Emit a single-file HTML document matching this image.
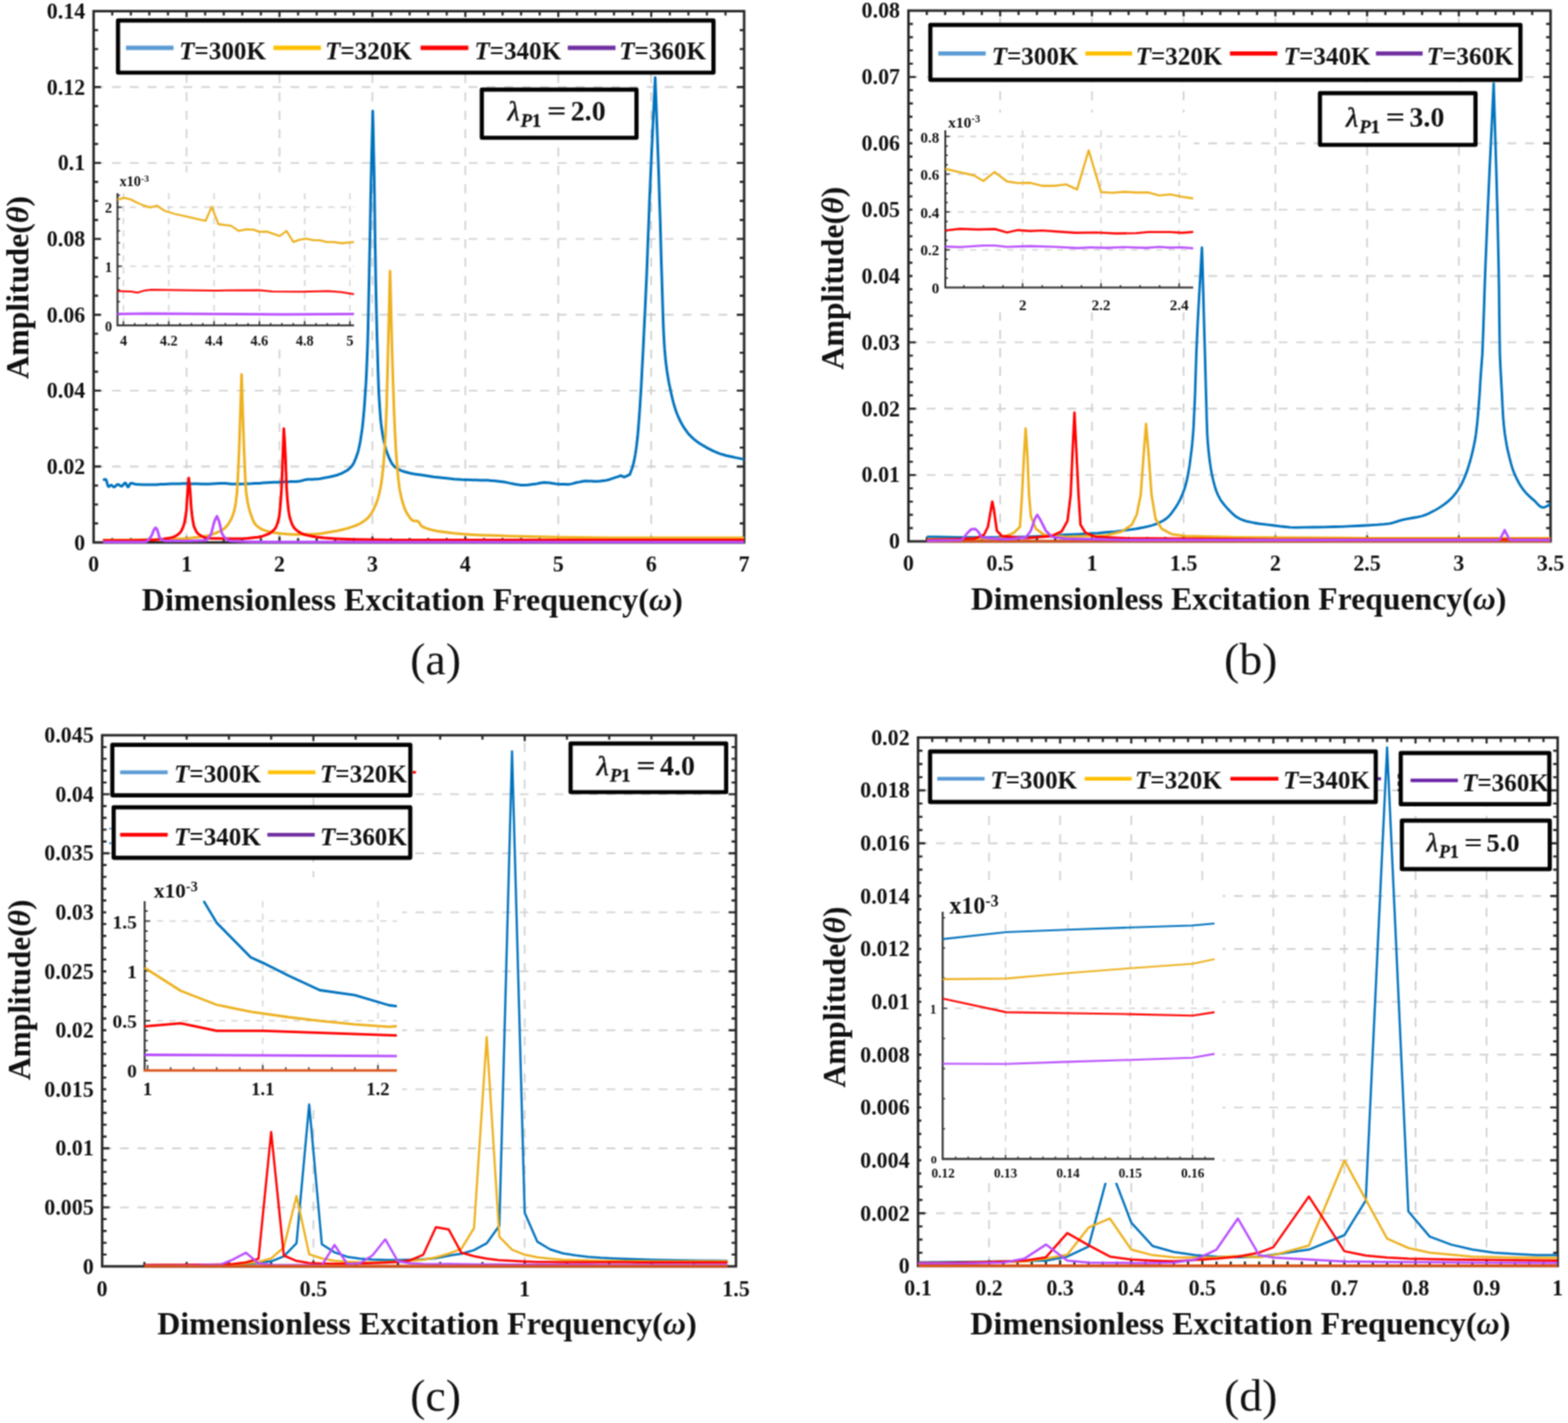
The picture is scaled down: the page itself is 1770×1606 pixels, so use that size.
<!DOCTYPE html>
<html lang="en"><head><meta charset="utf-8"><title>Amplitude versus dimensionless excitation frequency</title>
<style>html,body{margin:0;padding:0;background:#fff}svg{display:block}text{font-family:'Liberation Serif', 'DejaVu Serif', serif;fill:#111}</style></head><body>
<svg width="1770" height="1606" viewBox="0 0 1770 1606">
<defs><filter id="soft" x="0" y="0" width="1770" height="1606" filterUnits="userSpaceOnUse" color-interpolation-filters="sRGB"><feConvolveMatrix order="3" kernelMatrix="1 2 1 2 4 2 1 2 1" divisor="16" edgeMode="duplicate" preserveAlpha="true"/></filter></defs>
<g filter="url(#soft)">
<rect width="1770" height="1606" fill="#fff"/>
<clipPath id="ca"><rect x="105.7" y="12.6" width="734.3" height="601.1"/></clipPath>
<g id="panel-a">
<line x1="210.6" y1="612.2" x2="210.6" y2="12.6" stroke="#d2d2d2" stroke-width="1.9" stroke-dasharray="10.36 10.36" stroke-dashoffset="-0.35"/>
<line x1="315.5" y1="612.2" x2="315.5" y2="12.6" stroke="#d2d2d2" stroke-width="1.9" stroke-dasharray="10.36 10.36" stroke-dashoffset="-0.35"/>
<line x1="420.4" y1="612.2" x2="420.4" y2="12.6" stroke="#d2d2d2" stroke-width="1.9" stroke-dasharray="10.36 10.36" stroke-dashoffset="-0.35"/>
<line x1="525.3" y1="612.2" x2="525.3" y2="12.6" stroke="#d2d2d2" stroke-width="1.9" stroke-dasharray="10.36 10.36" stroke-dashoffset="-0.35"/>
<line x1="630.2" y1="612.2" x2="630.2" y2="12.6" stroke="#d2d2d2" stroke-width="1.9" stroke-dasharray="10.36 10.36" stroke-dashoffset="-0.35"/>
<line x1="735.1" y1="612.2" x2="735.1" y2="12.6" stroke="#d2d2d2" stroke-width="1.9" stroke-dasharray="10.36 10.36" stroke-dashoffset="-0.35"/>
<line x1="105.7" y1="526.5" x2="840" y2="526.5" stroke="#d2d2d2" stroke-width="1.9" stroke-dasharray="10 10.13" stroke-dashoffset="-0.60"/>
<line x1="105.7" y1="440.9" x2="840" y2="440.9" stroke="#d2d2d2" stroke-width="1.9" stroke-dasharray="10 10.13" stroke-dashoffset="-0.60"/>
<line x1="105.7" y1="355.2" x2="840" y2="355.2" stroke="#d2d2d2" stroke-width="1.9" stroke-dasharray="10 10.13" stroke-dashoffset="-0.60"/>
<line x1="105.7" y1="269.6" x2="840" y2="269.6" stroke="#d2d2d2" stroke-width="1.9" stroke-dasharray="10 10.13" stroke-dashoffset="-0.60"/>
<line x1="105.7" y1="183.9" x2="840" y2="183.9" stroke="#d2d2d2" stroke-width="1.9" stroke-dasharray="10 10.13" stroke-dashoffset="-0.60"/>
<line x1="105.7" y1="98.3" x2="840" y2="98.3" stroke="#d2d2d2" stroke-width="1.9" stroke-dasharray="10 10.13" stroke-dashoffset="-0.60"/>
<path d="M126.7 612.2v-5M126.7 12.6v5M147.7 612.2v-5M147.7 12.6v5M168.6 612.2v-5M168.6 12.6v5M189.6 612.2v-5M189.6 12.6v5M231.6 612.2v-5M231.6 12.6v5M252.6 612.2v-5M252.6 12.6v5M273.5 612.2v-5M273.5 12.6v5M294.5 612.2v-5M294.5 12.6v5M336.5 612.2v-5M336.5 12.6v5M357.5 612.2v-5M357.5 12.6v5M378.4 612.2v-5M378.4 12.6v5M399.4 612.2v-5M399.4 12.6v5M441.4 612.2v-5M441.4 12.6v5M462.4 612.2v-5M462.4 12.6v5M483.3 612.2v-5M483.3 12.6v5M504.3 612.2v-5M504.3 12.6v5M546.3 612.2v-5M546.3 12.6v5M567.3 612.2v-5M567.3 12.6v5M588.2 612.2v-5M588.2 12.6v5M609.2 612.2v-5M609.2 12.6v5M651.2 612.2v-5M651.2 12.6v5M672.2 612.2v-5M672.2 12.6v5M693.1 612.2v-5M693.1 12.6v5M714.1 612.2v-5M714.1 12.6v5M756.1 612.2v-5M756.1 12.6v5M777.1 612.2v-5M777.1 12.6v5M798 612.2v-5M798 12.6v5M819 612.2v-5M819 12.6v5M210.6 612.2v-6.6M210.6 12.6v6.6M315.5 612.2v-6.6M315.5 12.6v6.6M420.4 612.2v-6.6M420.4 12.6v6.6M525.3 612.2v-6.6M525.3 12.6v6.6M630.2 612.2v-6.6M630.2 12.6v6.6M735.1 612.2v-6.6M735.1 12.6v6.6M105.7 590.8h5M840 590.8h-5M105.7 569.4h5M840 569.4h-5M105.7 548h5M840 548h-5M105.7 505.1h5M840 505.1h-5M105.7 483.7h5M840 483.7h-5M105.7 462.3h5M840 462.3h-5M105.7 419.5h5M840 419.5h-5M105.7 398.1h5M840 398.1h-5M105.7 376.6h5M840 376.6h-5M105.7 333.8h5M840 333.8h-5M105.7 312.4h5M840 312.4h-5M105.7 291h5M840 291h-5M105.7 248.2h5M840 248.2h-5M105.7 226.7h5M840 226.7h-5M105.7 205.3h5M840 205.3h-5M105.7 162.5h5M840 162.5h-5M105.7 141.1h5M840 141.1h-5M105.7 119.7h5M840 119.7h-5M105.7 76.8h5M840 76.8h-5M105.7 55.4h5M840 55.4h-5M105.7 34h5M840 34h-5M105.7 526.5h8.2M840 526.5h-8.2M105.7 440.9h8.2M840 440.9h-8.2M105.7 355.2h8.2M840 355.2h-8.2M105.7 269.6h8.2M840 269.6h-8.2M105.7 183.9h8.2M840 183.9h-8.2M105.7 98.3h8.2M840 98.3h-8.2" stroke="#262626" stroke-width="2.4" fill="none"/>
<rect x="105.7" y="12.6" width="734.3" height="599.6" fill="none" stroke="#262626" stroke-width="2.8"/>
<polyline points="116.2,541.5 116.8,541.4 117.4,541.3 118.1,541.2 118.7,541.1 119.3,541.1 120,542 120.6,544 121.2,546.4 121.9,548.4 122.5,549.2 123.1,549.1 123.7,548.6 124.4,548.1 125,547.7 125.6,547.5 126.3,547.8 126.9,548.3 127.5,548.9 128.1,549.4 128.8,549.7 129.6,549.4 130.5,548.6 131.3,547.7 132.1,547 133,546.7 133.8,546.9 134.7,547.4 135.5,548.1 136.3,548.6 137.2,548.8 138,548.4 138.8,547.5 139.7,546.3 140.5,545.4 141.4,545 142,545.4 142.6,546.6 143.3,548 143.9,549.2 144.5,549.7 145.1,549.2 145.8,548.2 146.4,546.9 147,545.8 147.7,545.4 149.1,545.5 150.6,545.8 152.1,546.2 153.5,546.5 155,546.7 157.7,546.8 160.5,546.9 163.2,547 165.9,547.1 168.6,547.1 172.8,547 177,546.9 181.2,546.6 185.4,546.4 189.6,546.2 193.8,546.1 198,546 202.2,545.9 206.4,545.8 210.6,545.8 214.8,545.9 219,546 223.2,546.1 227.4,546.2 231.6,546.2 235.8,546.2 240,545.9 244.2,545.7 248.4,545.5 252.6,545.4 254.7,545.5 256.8,545.7 258.9,545.9 261,546.2 263.1,546.2 267.2,546.2 271.4,546.2 275.6,546.1 279.8,545.9 284,545.8 288.2,545.6 292.4,545.4 296.6,545.1 300.8,544.8 305,544.5 309.2,544.3 313.4,544.2 317.6,544 321.8,543.8 326,543.7 328.1,543.6 330.2,543.5 332.3,543.5 334.4,543.4 336.5,543.2 338.6,543 340.7,542.5 342.8,541.9 344.9,541.4 347,541.1 349.1,541 351.2,540.9 353.3,540.9 355.4,540.8 357.5,540.7 359.6,540.5 361.7,540.2 363.8,539.8 365.9,539.4 367.9,539 370,538.6 372.1,538.2 374.2,537.8 376.3,537.3 378.4,536.8 380.5,536.2 382.6,535.4 384.7,534.6 386.8,533.6 388.9,532.5 390.5,531.7 392,530.7 393.6,529.5 395.1,528.2 396.7,526.5 398.1,524.7 399.5,522.2 400.8,519.2 402.2,515.6 403.6,511.6 404.7,507.8 405.7,503.1 406.8,497.6 407.8,491.1 408.9,483.7 409.6,477.5 410.3,470.1 411.1,461.4 411.8,451.6 412.5,440.9 413,434.2 413.4,426.7 413.8,418.3 414.2,408.8 414.6,398.1 415.1,384.9 415.5,368.8 415.9,350.8 416.3,331.7 416.7,312.4 417.1,292.1 417.6,270.1 418,247.5 418.4,225.5 418.8,205.3 419.2,188.1 419.6,171.9 420,156.4 420.4,141 420.8,125.2 421.2,140.8 421.5,155.9 421.8,171.2 422.2,187.5 422.5,205.3 422.8,225.2 423.1,248 423.4,271.5 423.8,293.7 424.1,312.4 424.5,332.8 424.9,351.1 425.3,367.7 425.7,383.2 426.2,398.1 426.4,407.8 426.7,417.5 427,426.6 427.3,434.6 427.5,440.9 428.2,452.9 428.9,463.1 429.5,471.5 430.2,478.4 430.9,483.7 432.1,491.6 433.4,498.2 434.7,503.5 435.9,507.9 437.2,511.6 438.8,515.6 440.4,519.3 442,522.4 443.6,524.8 445.2,526.5 447.5,528.3 449.9,529.7 452.3,530.9 454.7,531.8 457.1,532.5 461.7,533.7 466.3,534.7 471,535.4 475.6,536.1 480.2,536.8 485,537.5 489.8,538.2 494.7,538.8 499.5,539.3 504.3,539.8 508.5,540.2 512.7,540.7 516.9,541 521.1,541.3 525.3,541.5 529.5,541.6 533.7,541.7 537.9,541.8 542.1,541.9 546.3,542 550.5,542.1 554.7,542.4 558.9,542.8 563.1,543.2 567.3,543.7 569.4,544 571.5,544.4 573.6,544.9 575.7,545.4 577.8,545.8 580.3,546.3 582.8,546.7 585.3,547.1 587.8,547.4 590.3,547.5 593.1,547.4 595.8,547.2 598.5,546.9 601.2,546.6 604,546.2 606.1,545.9 608.2,545.5 610.3,545 612.4,544.7 614.5,544.5 617.6,544.7 620.8,545 623.9,545.5 627.1,545.9 630.2,546.2 632.3,546.4 634.4,546.5 636.5,546.6 638.6,546.6 640.7,546.7 642.8,546.5 644.9,546.1 647,545.6 649.1,545 651.2,544.5 653.3,544.1 655.4,543.7 657.5,543.2 659.6,542.9 661.7,542.8 663.8,542.9 665.9,543 668,543.1 670.1,543.2 672.2,543.2 674.3,543.2 676.4,543.1 678.5,542.9 680.6,542.6 682.6,542.4 684.7,542 686.8,541.5 688.9,540.8 691,540.1 693.1,539.4 694.7,538.9 696.3,538.4 697.9,537.9 699.4,537.3 701,536.8 701.7,537.2 702.5,537.5 703.2,537.8 703.9,538.2 704.7,538.5 705.9,537.9 707.2,537.3 708.5,536.7 709.7,536.1 711,535.5 711.7,533.5 712.4,531.5 713.2,529.5 713.9,527.4 714.6,524.8 715.1,522.8 715.7,520.5 716.2,518 716.7,515.3 717.2,512.4 717.5,510.3 717.9,508 718.2,505.6 718.6,502.9 718.9,500 719.7,493.3 720.4,485.5 721.1,476.7 721.8,467.2 722.5,457.2 723.1,447.4 723.8,436.5 724.4,424.9 725,412.8 725.7,400.6 726.5,384.2 727.3,367.2 728.2,349.6 729,331.4 729.9,312.4 730.7,292 731.5,270.1 732.4,247.8 733.2,225.9 734.1,205.3 735.2,180.3 736.3,156.6 737.4,133.6 738.5,110.7 739.6,87.6 740.6,114.9 741.6,141.9 742.6,169.1 743.6,197.1 744.5,226.7 745.2,247.3 745.8,269.1 746.4,291.4 747.1,313.3 747.7,333.8 748,343.3 748.3,352.9 748.6,362.1 748.9,370.2 749.2,376.6 749.7,385.9 750.2,393.7 750.8,400.3 751.3,406 751.9,410.9 752.7,417.5 753.6,423.1 754.4,428 755.2,432.5 756.1,436.6 757.5,443.2 758.9,449.3 760.3,454.8 761.7,459.7 763.1,464 764.4,467.5 765.8,470.7 767.1,473.5 768.4,476.2 769.7,478.6 771.1,481 772.5,483.2 773.9,485.2 775.3,487.1 776.6,488.9 778.4,490.9 780.2,492.7 781.9,494.4 783.7,496 785.5,497.4 787.3,498.8 789.1,500 791,501.2 792.8,502.3 794.7,503.4 796.6,504.5 798.5,505.6 800.5,506.7 802.4,507.6 804.3,508.6 806.5,509.5 808.6,510.5 810.8,511.3 812.9,512.1 815,512.8 817.5,513.5 820,514.2 822.5,514.7 824.9,515.3 827.4,515.8 829.9,516.4 832.4,516.9 835,517.4 837.5,517.9 840,518.4" fill="none" stroke="#0072BD" stroke-width="3.0" stroke-linejoin="round" stroke-linecap="butt" clip-path="url(#ca)"/>
<polyline points="116.2,609.6 124.6,609.5 133,609.5 141.4,609.4 149.8,609.3 158.2,609.2 166.5,609.1 174.9,609 183.3,608.8 191.7,608.6 200.1,608.3 204.3,608.1 208.5,607.9 212.7,607.5 216.9,607.1 221.1,606.6 224.2,606.3 227.4,605.8 230.5,605.3 233.7,604.8 236.8,604.1 238.4,603.6 239.9,603.1 241.4,602.4 243,601.8 244.5,601.1 246.2,600.3 248,599.5 249.8,598.6 251.5,597.6 253.3,596.4 254.6,595.2 255.9,593.7 257.3,592 258.6,590 259.9,587.8 260.8,586.2 261.7,584.3 262.5,582.2 263.4,579.7 264.3,576.7 265,573.9 265.6,570.4 266.3,566.2 266.9,561 267.6,554.8 268,549 268.4,541 268.9,531.5 269.3,521.2 269.8,510.7 270.1,502.9 270.4,494.4 270.7,485.4 271,476 271.3,466.6 271.6,458.2 271.9,449.4 272.2,440.4 272.4,431.4 272.7,422.5 273,431.4 273.2,440.4 273.5,449.4 273.8,458.2 274.1,466.6 274.4,476 274.7,485.4 275,494.4 275.3,502.9 275.6,510.7 276.1,521.3 276.5,531.8 277,541.4 277.4,549.4 277.8,554.8 278.7,561.3 279.5,566.5 280.3,570.5 281.1,573.8 281.9,576.7 283.3,580.9 284.6,584.6 285.9,587.8 287.2,590.3 288.5,592.1 290.7,594.1 292.9,595.8 295.1,597.1 297.4,598.1 299.6,598.9 302.6,599.8 305.7,600.5 308.8,601.1 311.9,601.5 315,601.9 318.5,602.3 322,602.6 325.5,602.9 329.1,603.1 332.6,603.2 337,603.2 341.4,603.1 345.8,603 350.2,602.9 354.6,602.8 359,602.5 363.4,602 367.8,601.3 372.3,600.6 376.7,599.8 381.1,599 385.5,598 389.9,596.9 394.3,595.7 398.7,594.2 401.8,593 404.9,591.7 407.9,590 411,588 414.1,585.6 415.9,583.9 417.6,581.7 419.4,579 421.2,575.9 422.9,572.4 424.2,569.4 425.6,565.8 426.9,561.6 428.2,556.6 429.5,550.5 430.4,545.4 431.3,538.8 432.2,530.9 433.1,521.5 433.9,510.7 434.4,504.3 434.8,496.6 435.3,487.7 435.7,477.7 436.1,466.6 436.5,455.9 436.8,443.1 437.2,429.1 437.6,414.7 437.9,400.6 438.4,382.1 438.9,363.2 439.4,344.1 439.8,325 440.3,306 440.8,325.3 441.3,345.1 441.8,364.6 442.3,383.3 442.7,400.6 443.2,415.4 443.6,429.5 444.1,442.9 444.5,455.3 444.9,466.6 445.4,477 445.8,486.8 446.3,495.8 446.7,503.9 447.1,510.7 448,522.4 448.9,533 449.8,542.1 450.7,549.4 451.6,554.8 453.3,562.6 455.1,568.9 456.8,574 458.6,577.9 460.4,580.9 461.7,582.9 463,584.7 464.3,586.2 465.7,587.3 467,587.8 467.9,587.9 468.8,588 469.7,588 470.6,588.1 471.5,588.2 472.4,588.8 473.3,590 474.2,591.5 475.1,592.9 476,593.8 479.6,595.6 483.1,596.9 486.7,597.9 490.3,598.7 493.8,599.4 499.7,600.3 505.6,601.1 511.5,601.8 517.3,602.3 523.2,602.8 533.2,603.4 543.2,603.9 553.2,604.3 563.1,604.6 573.1,604.9 584.3,605.2 595.5,605.5 606.7,605.8 617.9,606 629.2,606.2 649.5,606.5 669.9,606.7 690.2,606.9 710.6,607 730.9,607.1 752.7,607.1 774.5,607.1 796.4,607.1 818.2,607.1 840,607.1" fill="none" stroke="#EDB120" stroke-width="3.0" stroke-linejoin="round" stroke-linecap="butt" clip-path="url(#ca)"/>
<polyline points="116.2,610.1 126.7,610 137.2,609.9 147.7,609.9 158.2,609.8 168.6,609.6 173.7,609.4 178.7,609 183.7,608.4 188.8,607.6 193.8,606.6 195.6,606.1 197.3,605.4 199,604.5 200.8,603.3 202.5,601.9 203.4,601 204.3,599.8 205.2,598.3 206,596.4 206.9,594.2 207.6,592.1 208.3,589.4 208.9,586 209.6,581.7 210.3,576.7 210.6,573.4 210.9,569 211.2,564 211.5,559.1 211.8,554.8 212,551.5 212.3,548.3 212.6,545.4 212.8,542.4 213.1,539.4 213.4,542.4 213.7,545.3 214.1,548.3 214.4,551.4 214.7,554.8 215,558.9 215.3,563.8 215.6,568.7 215.9,573.2 216.3,576.7 216.8,581.5 217.4,585.7 218,589.3 218.5,592.2 219.1,594.2 220.2,597 221.3,599.2 222.4,601 223.5,602.3 224.6,603.2 226.8,604.6 229,605.8 231.2,606.6 233.4,607.2 235.6,607.5 241.8,607.7 247.9,607.8 254.1,607.9 260.3,607.9 266.5,607.9 270.9,607.9 275.3,607.7 279.7,607.4 284.1,607 288.5,606.6 291.2,606.3 293.8,605.7 296.5,605.1 299.1,604.2 301.8,603.2 303.5,602.4 305.3,601.4 307,600.1 308.8,598.4 310.6,596.4 311.5,595 312.3,593 313.2,590.5 314.1,587.4 315,583.5 315.5,580.2 316,575.5 316.5,569.6 317.1,562.6 317.6,554.8 318,548.1 318.3,539.6 318.7,530 319,520.2 319.4,510.7 319.6,505.4 319.8,500 320,494.6 320.2,489.1 320.4,483.7 320.7,489 321.1,494 321.4,499.2 321.7,504.7 322,510.7 322.4,519.1 322.7,529.1 323.1,539.2 323.4,548.3 323.8,554.8 324.4,563.1 325.1,570.1 325.7,575.9 326.4,580.3 327,583.5 328.2,587.4 329.3,590.6 330.4,593.1 331.5,595 332.6,596.4 334.8,598.4 337,600.1 339.2,601.4 341.4,602.5 343.6,603.2 348,604.4 352.4,605.3 356.8,606.1 361.2,606.6 365.6,607.1 372.3,607.6 378.9,608 385.5,608.3 392.1,608.6 398.7,608.8 413.5,609.1 428.4,609.3 443.2,609.5 458,609.6 472.8,609.6 546.3,609.6 619.7,609.6 693.1,609.6 766.6,609.6 840,609.6" fill="none" stroke="#FF0000" stroke-width="3.0" stroke-linejoin="round" stroke-linecap="butt" clip-path="url(#ca)"/>
<polyline points="116.2,611.8 125.6,611.8 135.1,611.8 144.5,611.8 154,611.8 163.4,611.8 164.8,611.4 166.3,610.5 167.7,609 169.2,607.3 170.6,605.3 171.3,604.1 172,602.5 172.6,600.7 173.3,599 174,597.6 174.3,597.1 174.7,596.7 175,596.3 175.3,595.9 175.7,595.5 176,595.9 176.3,596.3 176.7,596.7 177,597.1 177.3,597.6 178,599.3 178.6,601.6 179.3,604.2 179.9,606.3 180.6,607.5 181.9,608.5 183.2,609.4 184.6,610 185.9,610.4 187.2,610.5 196,610.5 204.8,610.4 213.6,610.4 222.5,610.2 231.3,610.1 232.6,609.7 233.9,608.7 235.2,607.2 236.6,605.3 237.9,603.2 238.8,601 239.6,597.8 240.5,594.1 241.4,590.5 242.3,587.8 242.8,586.6 243.3,585.5 243.9,584.6 244.4,583.6 244.9,582.6 245.3,583.6 245.8,584.6 246.2,585.6 246.7,586.6 247.1,587.8 247.9,590.7 248.7,594.3 249.5,598 250.3,601.2 251.1,603.2 252.9,605.6 254.6,607.6 256.4,609.1 258.1,610.1 259.9,610.5 271,611 282.1,611.4 293.3,611.6 304.4,611.7 315.5,611.8 420.4,611.8 525.3,611.8 630.2,611.8 735.1,611.8 840,611.8" fill="none" stroke="#B84DFF" stroke-width="3.0" stroke-linejoin="round" stroke-linecap="butt" clip-path="url(#ca)"/>
<rect x="115" y="194.5" width="292" height="200" fill="#fff"/>
<line x1="139.4" y1="218" x2="139.4" y2="367.3" stroke="#d2d2d2" stroke-width="1.5" stroke-dasharray="7 7"/>
<line x1="190.5" y1="218" x2="190.5" y2="367.3" stroke="#d2d2d2" stroke-width="1.5" stroke-dasharray="7 7"/>
<line x1="241.6" y1="218" x2="241.6" y2="367.3" stroke="#d2d2d2" stroke-width="1.5" stroke-dasharray="7 7"/>
<line x1="292.8" y1="218" x2="292.8" y2="367.3" stroke="#d2d2d2" stroke-width="1.5" stroke-dasharray="7 7"/>
<line x1="343.9" y1="218" x2="343.9" y2="367.3" stroke="#d2d2d2" stroke-width="1.5" stroke-dasharray="7 7"/>
<line x1="395" y1="218" x2="395" y2="367.3" stroke="#d2d2d2" stroke-width="1.5" stroke-dasharray="7 7"/>
<line x1="132.6" y1="300.6" x2="399.6" y2="300.6" stroke="#d2d2d2" stroke-width="1.5" stroke-dasharray="7 7"/>
<line x1="132.6" y1="233.8" x2="399.6" y2="233.8" stroke="#d2d2d2" stroke-width="1.5" stroke-dasharray="7 7"/>
<clipPath id="cia"><rect x="131.1" y="216" width="269" height="153.3"/></clipPath>
<path d="M152.2 367.3v-2.8M165 367.3v-2.8M177.7 367.3v-2.8M203.3 367.3v-2.8M216.1 367.3v-2.8M228.9 367.3v-2.8M254.4 367.3v-2.8M267.2 367.3v-2.8M280 367.3v-2.8M305.5 367.3v-2.8M318.3 367.3v-2.8M331.1 367.3v-2.8M356.7 367.3v-2.8M369.4 367.3v-2.8M382.2 367.3v-2.8M139.4 367.3v-4.8M190.5 367.3v-4.8M241.6 367.3v-4.8M292.8 367.3v-4.8M343.9 367.3v-4.8M395 367.3v-4.8M132.6 353.9h2.8M132.6 340.6h2.8M132.6 327.2h2.8M132.6 313.9h2.8M132.6 287.2h2.8M132.6 273.9h2.8M132.6 260.5h2.8M132.6 247.2h2.8M132.6 220.4h2.8M132.6 300.6h4.8M132.6 233.8h4.8" stroke="#262626" stroke-width="1.5" fill="none"/>
<path d="M132.6 218V367.3H399.6" fill="none" stroke="#262626" stroke-width="2.0"/>
<polyline points="132.6,354.4 166.8,353.8 243.7,354.4 320.5,354.8 399.6,354.4" fill="none" stroke="#B84DFF" stroke-width="2.8" stroke-linejoin="round" clip-path="url(#cia)"/>
<polyline points="132.6,328.5 147.6,328.9 155.3,330.2 163,327.9 170.7,326.9 205.3,327.5 243.7,327.9 292.7,327.5 307.1,328.9 339.7,329.3 370.4,328.5 385.8,329.8 399.6,332.1" fill="none" stroke="#FF0000" stroke-width="2.0" stroke-linejoin="round" clip-path="url(#cia)"/>
<polyline points="132.6,225.7 139.9,223.2 147.6,225.1 155.3,229 163,232.2 169.7,234.2 177.4,232.2 186,238 197.6,241.5 212.9,244.9 224.5,247.6 232.1,249.2 238.9,233.4 246.6,253 261,254.9 269.6,260.7 277.3,258.8 285.9,259.1 292.7,261.6 301.3,261.4 315.7,266.4 323.4,260.7 331.1,273.2 337.8,270.7 345.5,269.3 354.1,271.2 360.8,271.2 368.5,273.2 376.2,273.2 385.8,274.5 399.6,273.2" fill="none" stroke="#EDB120" stroke-width="2.3" stroke-linejoin="round" clip-path="url(#cia)"/>
<text x="126.5" y="373.8" font-size="16" font-weight="bold" text-anchor="end">0</text>
<text x="126.5" y="307.1" font-size="16" font-weight="bold" text-anchor="end">1</text>
<text x="126.5" y="240.3" font-size="16" font-weight="bold" text-anchor="end">2</text>
<text x="139.4" y="390.2" font-size="16" font-weight="bold" text-anchor="middle">4</text>
<text x="190.5" y="390.2" font-size="16" font-weight="bold" text-anchor="middle">4.2</text>
<text x="241.6" y="390.2" font-size="16" font-weight="bold" text-anchor="middle">4.4</text>
<text x="292.8" y="390.2" font-size="16" font-weight="bold" text-anchor="middle">4.6</text>
<text x="343.9" y="390.2" font-size="16" font-weight="bold" text-anchor="middle">4.8</text>
<text x="395" y="390.2" font-size="16" font-weight="bold" text-anchor="middle">5</text>
<text x="135" y="209.8" font-size="16" font-weight="bold">x10<tspan font-size="11" dy="-5.1">-3</tspan></text>
<text x="105.7" y="644.6" font-size="24.8" font-weight="bold" text-anchor="middle">0</text>
<text x="210.6" y="644.6" font-size="24.8" font-weight="bold" text-anchor="middle">1</text>
<text x="315.5" y="644.6" font-size="24.8" font-weight="bold" text-anchor="middle">2</text>
<text x="420.4" y="644.6" font-size="24.8" font-weight="bold" text-anchor="middle">3</text>
<text x="525.3" y="644.6" font-size="24.8" font-weight="bold" text-anchor="middle">4</text>
<text x="630.2" y="644.6" font-size="24.8" font-weight="bold" text-anchor="middle">5</text>
<text x="735.1" y="644.6" font-size="24.8" font-weight="bold" text-anchor="middle">6</text>
<text x="840" y="644.6" font-size="24.8" font-weight="bold" text-anchor="middle">7</text>
<text x="96.2" y="620.5" font-size="24.8" font-weight="bold" text-anchor="end">0</text>
<text x="96.2" y="534.8" font-size="24.8" font-weight="bold" text-anchor="end">0.02</text>
<text x="96.2" y="449.2" font-size="24.8" font-weight="bold" text-anchor="end">0.04</text>
<text x="96.2" y="363.5" font-size="24.8" font-weight="bold" text-anchor="end">0.06</text>
<text x="96.2" y="277.9" font-size="24.8" font-weight="bold" text-anchor="end">0.08</text>
<text x="96.2" y="192.2" font-size="24.8" font-weight="bold" text-anchor="end">0.1</text>
<text x="96.2" y="106.6" font-size="24.8" font-weight="bold" text-anchor="end">0.12</text>
<text x="96.2" y="20.9" font-size="24.8" font-weight="bold" text-anchor="end">0.14</text>
<rect x="133.2" y="23.2" width="672.2" height="58.8" fill="#fff" stroke="#000" stroke-width="4.7" stroke-linejoin="round"/>
<line x1="142.2" y1="54" x2="195.9" y2="54" stroke="#5B9BD5" stroke-width="4.8"/>
<text x="202.3" y="66.5" font-size="30" font-weight="bold" textLength="98" lengthAdjust="spacingAndGlyphs"><tspan font-style="italic">T</tspan>=300K</text>
<line x1="308.7" y1="54" x2="362.4" y2="54" stroke="#FFC000" stroke-width="4.8"/>
<text x="366.9" y="66.5" font-size="30" font-weight="bold" textLength="98" lengthAdjust="spacingAndGlyphs"><tspan font-style="italic">T</tspan>=320K</text>
<line x1="474.8" y1="54" x2="528.7" y2="54" stroke="#FF0000" stroke-width="4.8"/>
<text x="535.5" y="66.5" font-size="30" font-weight="bold" textLength="98" lengthAdjust="spacingAndGlyphs"><tspan font-style="italic">T</tspan>=340K</text>
<line x1="640.9" y1="54" x2="694.8" y2="54" stroke="#7030A0" stroke-width="4.8"/>
<text x="699" y="66.5" font-size="30" font-weight="bold" textLength="98" lengthAdjust="spacingAndGlyphs"><tspan font-style="italic">T</tspan>=360K</text>
<rect x="543.9" y="101.1" width="174.6" height="54.4" fill="#fff" stroke="#000" stroke-width="4.7" stroke-linejoin="round"/>
<g font-weight="bold"><text x="572.9" y="136.4" font-size="31.5" font-style="italic" font-weight="normal" stroke="#111" stroke-width="0.6">λ</text><text x="587.7" y="143.4" font-size="21" stroke="#111" stroke-width="0.3"><tspan font-style="italic">P</tspan>1</text><text transform="translate(617.5 136.4) scale(1.22 1)" font-size="31.5">=</text><text x="644.3" y="136.4" font-size="31.5">2.0</text></g>
<text x="160" y="688.5" font-size="36" font-weight="bold" textLength="610.7" lengthAdjust="spacingAndGlyphs">Dimensionless Excitation Frequency(<tspan font-style="italic">ω</tspan>)</text>
<text transform="translate(31.9 324.5) rotate(-90)" font-size="36" font-weight="bold" text-anchor="middle">Amplitude(<tspan font-style="italic">θ</tspan>)</text>
<text x="491.7" y="760.5" font-size="51.6" font-weight="normal" text-anchor="middle">(a)</text>
</g>
<clipPath id="cb"><rect x="1025.5" y="12" width="724.8" height="600.5"/></clipPath>
<g id="panel-b">
<line x1="1129" y1="611" x2="1129" y2="12" stroke="#d2d2d2" stroke-width="1.9" stroke-dasharray="10.36 10.36" stroke-dashoffset="-0.35"/>
<line x1="1232.6" y1="611" x2="1232.6" y2="12" stroke="#d2d2d2" stroke-width="1.9" stroke-dasharray="10.36 10.36" stroke-dashoffset="-0.35"/>
<line x1="1336.1" y1="611" x2="1336.1" y2="12" stroke="#d2d2d2" stroke-width="1.9" stroke-dasharray="10.36 10.36" stroke-dashoffset="-0.35"/>
<line x1="1439.7" y1="611" x2="1439.7" y2="12" stroke="#d2d2d2" stroke-width="1.9" stroke-dasharray="10.36 10.36" stroke-dashoffset="-0.35"/>
<line x1="1543.2" y1="611" x2="1543.2" y2="12" stroke="#d2d2d2" stroke-width="1.9" stroke-dasharray="10.36 10.36" stroke-dashoffset="-0.35"/>
<line x1="1646.8" y1="611" x2="1646.8" y2="12" stroke="#d2d2d2" stroke-width="1.9" stroke-dasharray="10.36 10.36" stroke-dashoffset="-0.35"/>
<line x1="1025.5" y1="536.1" x2="1750.3" y2="536.1" stroke="#d2d2d2" stroke-width="1.9" stroke-dasharray="10 9.87" stroke-dashoffset="-0.60"/>
<line x1="1025.5" y1="461.2" x2="1750.3" y2="461.2" stroke="#d2d2d2" stroke-width="1.9" stroke-dasharray="10 9.87" stroke-dashoffset="-0.60"/>
<line x1="1025.5" y1="386.4" x2="1750.3" y2="386.4" stroke="#d2d2d2" stroke-width="1.9" stroke-dasharray="10 9.87" stroke-dashoffset="-0.60"/>
<line x1="1025.5" y1="311.5" x2="1750.3" y2="311.5" stroke="#d2d2d2" stroke-width="1.9" stroke-dasharray="10 9.87" stroke-dashoffset="-0.60"/>
<line x1="1025.5" y1="236.6" x2="1750.3" y2="236.6" stroke="#d2d2d2" stroke-width="1.9" stroke-dasharray="10 9.87" stroke-dashoffset="-0.60"/>
<line x1="1025.5" y1="161.8" x2="1750.3" y2="161.8" stroke="#d2d2d2" stroke-width="1.9" stroke-dasharray="10 9.87" stroke-dashoffset="-0.60"/>
<line x1="1025.5" y1="86.9" x2="1750.3" y2="86.9" stroke="#d2d2d2" stroke-width="1.9" stroke-dasharray="10 9.87" stroke-dashoffset="-0.60"/>
<path d="M1046.2 611v-5M1046.2 12v5M1066.9 611v-5M1066.9 12v5M1087.6 611v-5M1087.6 12v5M1108.3 611v-5M1108.3 12v5M1149.8 611v-5M1149.8 12v5M1170.5 611v-5M1170.5 12v5M1191.2 611v-5M1191.2 12v5M1211.9 611v-5M1211.9 12v5M1253.3 611v-5M1253.3 12v5M1274 611v-5M1274 12v5M1294.7 611v-5M1294.7 12v5M1315.4 611v-5M1315.4 12v5M1356.8 611v-5M1356.8 12v5M1377.5 611v-5M1377.5 12v5M1398.3 611v-5M1398.3 12v5M1419 611v-5M1419 12v5M1460.4 611v-5M1460.4 12v5M1481.1 611v-5M1481.1 12v5M1501.8 611v-5M1501.8 12v5M1522.5 611v-5M1522.5 12v5M1563.9 611v-5M1563.9 12v5M1584.6 611v-5M1584.6 12v5M1605.3 611v-5M1605.3 12v5M1626 611v-5M1626 12v5M1667.5 611v-5M1667.5 12v5M1688.2 611v-5M1688.2 12v5M1708.9 611v-5M1708.9 12v5M1729.6 611v-5M1729.6 12v5M1129 611v-6.6M1129 12v6.6M1232.6 611v-6.6M1232.6 12v6.6M1336.1 611v-6.6M1336.1 12v6.6M1439.7 611v-6.6M1439.7 12v6.6M1543.2 611v-6.6M1543.2 12v6.6M1646.8 611v-6.6M1646.8 12v6.6M1025.5 596h5M1750.3 596h-5M1025.5 581h5M1750.3 581h-5M1025.5 566.1h5M1750.3 566.1h-5M1025.5 551.1h5M1750.3 551.1h-5M1025.5 521.1h5M1750.3 521.1h-5M1025.5 506.2h5M1750.3 506.2h-5M1025.5 491.2h5M1750.3 491.2h-5M1025.5 476.2h5M1750.3 476.2h-5M1025.5 446.3h5M1750.3 446.3h-5M1025.5 431.3h5M1750.3 431.3h-5M1025.5 416.3h5M1750.3 416.3h-5M1025.5 401.4h5M1750.3 401.4h-5M1025.5 371.4h5M1750.3 371.4h-5M1025.5 356.4h5M1750.3 356.4h-5M1025.5 341.4h5M1750.3 341.4h-5M1025.5 326.5h5M1750.3 326.5h-5M1025.5 296.5h5M1750.3 296.5h-5M1025.5 281.6h5M1750.3 281.6h-5M1025.5 266.6h5M1750.3 266.6h-5M1025.5 251.6h5M1750.3 251.6h-5M1025.5 221.6h5M1750.3 221.6h-5M1025.5 206.7h5M1750.3 206.7h-5M1025.5 191.7h5M1750.3 191.7h-5M1025.5 176.7h5M1750.3 176.7h-5M1025.5 146.8h5M1750.3 146.8h-5M1025.5 131.8h5M1750.3 131.8h-5M1025.5 116.8h5M1750.3 116.8h-5M1025.5 101.8h5M1750.3 101.8h-5M1025.5 71.9h5M1750.3 71.9h-5M1025.5 56.9h5M1750.3 56.9h-5M1025.5 42h5M1750.3 42h-5M1025.5 27h5M1750.3 27h-5M1025.5 536.1h8.2M1750.3 536.1h-8.2M1025.5 461.2h8.2M1750.3 461.2h-8.2M1025.5 386.4h8.2M1750.3 386.4h-8.2M1025.5 311.5h8.2M1750.3 311.5h-8.2M1025.5 236.6h8.2M1750.3 236.6h-8.2M1025.5 161.8h8.2M1750.3 161.8h-8.2M1025.5 86.9h8.2M1750.3 86.9h-8.2" stroke="#262626" stroke-width="2.4" fill="none"/>
<rect x="1025.5" y="12" width="724.8" height="599" fill="none" stroke="#262626" stroke-width="2.8"/>
<polyline points="1046.2,605.8 1057.2,606 1068.3,606.2 1079.3,606.4 1090.3,606.5 1107.2,606.5 1124.2,606.3 1141.1,606.1 1158,605.8 1169.4,605.4 1180.7,604.8 1192,604.1 1203.4,603.5 1210.7,603.2 1218,602.8 1225.3,602.4 1232.6,602 1239.3,601.6 1246,601 1252.8,600.4 1259.5,599.8 1265.2,599.1 1270.9,598.4 1276.6,597.7 1282.3,596.8 1286.8,596 1291.3,595.2 1295.8,594.2 1300.3,593 1304.3,591.7 1308.3,590.1 1312.3,588.1 1316.2,585.5 1319,583.1 1321.8,580 1324.6,576.2 1327.4,572.1 1329.7,568.4 1332,564.1 1334.3,559.2 1336.5,553.3 1337.7,549.8 1338.8,545.6 1340,540.8 1341.1,535.4 1341.9,530.8 1342.8,525.4 1343.6,519.4 1344.4,512.9 1345,508.2 1345.6,503.1 1346.1,497.3 1346.7,490.5 1347.3,481.9 1347.8,471.3 1348.4,459 1349,445.5 1349.3,435 1349.7,422.7 1350.1,410.4 1350.4,399.9 1352,364.2 1353.6,334.7 1355.2,307.6 1356.8,279.3 1357.7,309.4 1358.5,339.5 1359.3,369.6 1360.2,399.9 1360.5,411.4 1360.8,423.1 1361.1,434.6 1361.4,445.5 1361.8,458.2 1362.1,470.9 1362.5,482.1 1362.8,490.5 1363.3,497.8 1363.8,503.7 1364.2,508.6 1364.7,512.9 1365.5,519.8 1366.4,525.9 1367.2,531.1 1368,535.4 1369.7,542.9 1371.4,549.2 1373.1,554.5 1374.9,558.6 1377.1,562.9 1379.4,566.4 1381.7,569.4 1384,572.1 1387.8,576.3 1391.7,580.1 1395.6,583.3 1399.5,585.5 1403.4,587.1 1407.4,588.3 1411.3,589.2 1415.2,590 1420.9,591 1426.5,591.7 1432.2,592.4 1437.8,593 1444,593.8 1450.1,594.5 1456.3,595.1 1462.5,595.3 1473.2,595.2 1484,595 1494.8,594.8 1505.5,594.5 1514.6,594.3 1523.6,593.9 1532.7,593.5 1541.8,593 1548.5,592.6 1555.3,592.2 1562.1,591.6 1568.9,590.8 1572.8,589.9 1576.8,588.7 1580.7,587.4 1584.6,586.3 1589.7,585.3 1594.8,584.5 1599.9,583.7 1604.9,582.5 1608.3,581.4 1611.8,580 1615.2,578.3 1618.6,576.6 1622.5,574.4 1626.5,571.9 1630.4,569.2 1634.3,566.1 1637.2,563.5 1640,560.6 1642.9,557.2 1645.7,553.3 1647.9,549.8 1650.2,545.6 1652.4,540.7 1654.6,535.4 1656.3,530.7 1658,525.4 1659.8,519.5 1661.5,512.9 1662.6,508.3 1663.7,503.3 1664.9,497.4 1666,490.5 1666.8,483.9 1667.7,475.9 1668.5,466.7 1669.3,456.8 1669.9,449 1670.5,440.1 1671,430.9 1671.6,422.3 1672,416.8 1672.4,411.8 1672.8,406.4 1673.3,399.9 1674.1,379.8 1675,353.4 1675.9,325.4 1676.8,300.3 1679.1,244.6 1681.4,193.6 1683.8,144.4 1686.1,94.4 1687.5,142.1 1688.9,187.4 1690.3,237.7 1691.7,300.3 1692.1,324.1 1692.4,353.5 1692.8,381.3 1693.1,399.9 1693.6,411.1 1694,419.4 1694.4,426.4 1694.8,433.5 1695.5,446.5 1696.1,459.4 1696.8,470.8 1697.5,479.2 1698.6,489 1699.8,496.6 1700.9,502.9 1702,508.4 1703.8,516 1705.5,522.7 1707.2,528.4 1708.9,533.1 1711.7,539.5 1714.5,544.9 1717.3,549.5 1720.1,553.3 1722.9,556.7 1725.8,559.5 1728.6,562.1 1731.5,564.6 1734,567.1 1736.5,569.8 1739.1,571.9 1741.6,572.8 1742.7,572.7 1743.9,572.3 1745,571.8 1746.2,571.3 1747.2,570.7 1748.2,570 1749.3,569.1 1750.3,568.3" fill="none" stroke="#0072BD" stroke-width="2.8" stroke-linejoin="round" stroke-linecap="butt" clip-path="url(#cb)"/>
<polyline points="1046.2,608.8 1129,607.3 1144.6,601.3 1151.4,594.5 1153.7,558.6 1156,512.9 1157.8,483.7 1159.7,512.9 1161.6,558.6 1163.8,583.3 1169.4,596.8 1178.5,603.5 1203.4,605.8 1248.3,604.3 1266.3,599.8 1277.5,592.3 1283.1,581 1287.7,558.6 1291,512.9 1293.7,478.5 1296.6,512.9 1299.9,558.6 1304.4,585.5 1311.3,596.8 1322.5,602.8 1338.2,605 1398.3,606.5 1543.2,607.3 1750.3,607.3" fill="none" stroke="#EDB120" stroke-width="2.8" stroke-linejoin="round" stroke-linecap="butt" clip-path="url(#cb)"/>
<polyline points="1046.2,609.5 1100.1,608 1110.8,603.5 1115.2,594.5 1118.7,574.3 1120.1,566.1 1121.8,574.3 1125.3,599 1130.9,605 1158,607.3 1187,605 1198.4,599.8 1205,587.8 1208.6,558.6 1210.6,512.9 1212.9,465.7 1215.2,512.9 1217.5,558.6 1219.7,592.3 1225.3,601.3 1236.7,605.8 1269.9,607.3 1439.7,608.8 1750.3,608.8" fill="none" stroke="#FF0000" stroke-width="2.8" stroke-linejoin="round" stroke-linecap="butt" clip-path="url(#cb)"/>
<polyline points="1046.2,611 1750.3,611" fill="none" stroke="#D95319" stroke-width="2.8" stroke-linejoin="round" stroke-linecap="butt" clip-path="url(#cb)"/>
<polyline points="1046.2,610.3 1085.6,609.5 1091.6,602 1096.1,597.5 1100.7,596.8 1104,599.8 1108.3,606.5 1135.3,608.8 1158,606.5 1163.6,599 1168.2,585.5 1170.9,581 1175,587.8 1180.6,599 1187.4,605.8 1203.4,608 1274,609.5 1691.3,609.5 1693.1,608.8 1698.5,598.3 1703.9,608.8 1705.8,609.5 1750.3,609.5" fill="none" stroke="#B84DFF" stroke-width="2.8" stroke-linejoin="round" stroke-linecap="butt" clip-path="url(#cb)"/>
<rect x="1030" y="127" width="317.5" height="225.5" fill="#fff"/>
<line x1="1154.4" y1="147.1" x2="1154.4" y2="324.5" stroke="#d2d2d2" stroke-width="1.5" stroke-dasharray="7 7"/>
<line x1="1242.8" y1="147.1" x2="1242.8" y2="324.5" stroke="#d2d2d2" stroke-width="1.5" stroke-dasharray="7 7"/>
<line x1="1331.1" y1="147.1" x2="1331.1" y2="324.5" stroke="#d2d2d2" stroke-width="1.5" stroke-dasharray="7 7"/>
<line x1="1067.1" y1="281.9" x2="1346.9" y2="281.9" stroke="#d2d2d2" stroke-width="1.5" stroke-dasharray="7 7"/>
<line x1="1067.1" y1="239.2" x2="1346.9" y2="239.2" stroke="#d2d2d2" stroke-width="1.5" stroke-dasharray="7 7"/>
<line x1="1067.1" y1="196.6" x2="1346.9" y2="196.6" stroke="#d2d2d2" stroke-width="1.5" stroke-dasharray="7 7"/>
<line x1="1067.1" y1="154" x2="1346.9" y2="154" stroke="#d2d2d2" stroke-width="1.5" stroke-dasharray="7 7"/>
<clipPath id="cib"><rect x="1065.6" y="145.1" width="281.8" height="181.4"/></clipPath>
<path d="M1088.1 324.5v-2.8M1110.2 324.5v-2.8M1132.3 324.5v-2.8M1176.5 324.5v-2.8M1198.6 324.5v-2.8M1220.7 324.5v-2.8M1264.8 324.5v-2.8M1286.9 324.5v-2.8M1309 324.5v-2.8M1154.4 324.5v-4.8M1242.8 324.5v-4.8M1331.1 324.5v-4.8M1067.1 313.8h2.8M1067.1 303.2h2.8M1067.1 292.5h2.8M1067.1 271.2h2.8M1067.1 260.6h2.8M1067.1 249.9h2.8M1067.1 228.6h2.8M1067.1 217.9h2.8M1067.1 207.3h2.8M1067.1 186h2.8M1067.1 175.3h2.8M1067.1 164.7h2.8M1067.1 281.9h4.8M1067.1 239.2h4.8M1067.1 196.6h4.8M1067.1 154h4.8" stroke="#262626" stroke-width="1.5" fill="none"/>
<path d="M1067.1 147.1V324.5H1346.9" fill="none" stroke="#262626" stroke-width="2.0"/>
<polyline points="1067.1,278.2 1083.6,278.9 1110.1,277.1 1123.2,277.1 1136.7,278.6 1162.7,277.7 1192.1,278.6 1216.9,280 1230.5,279.1 1248.6,279.8 1268.9,278.9 1293.8,279.8 1308.5,278.6 1320.9,279.5 1334.5,279.1 1346.9,280.2" fill="none" stroke="#B84DFF" stroke-width="2.4" stroke-linejoin="round" clip-path="url(#cib)"/>
<polyline points="1067.1,260.1 1083.6,258.3 1104,259 1123.2,258.5 1136.7,262.4 1149.2,259.7 1162.7,260.8 1176.3,260.1 1192.1,261.2 1214.7,262.8 1237.3,262.4 1259.9,263.5 1282.5,263.1 1296,261.9 1320.9,261.9 1334.5,262.8 1346.9,261.7" fill="none" stroke="#FF0000" stroke-width="2.4" stroke-linejoin="round" clip-path="url(#cib)"/>
<polyline points="1067.1,190.5 1079.1,193.4 1099.4,198 1110.1,204.3 1122.7,194.1 1136.7,204.7 1149.2,206.6 1162.7,206.3 1176.3,209.7 1189.8,209.7 1203.4,208.1 1215.8,213.8 1228.9,169.7 1242.9,216.7 1255.4,217.6 1268.9,216.5 1282.5,217.2 1296,217.2 1308.5,220.6 1320.9,219.4 1334.5,222.1 1346.9,224" fill="none" stroke="#EDB120" stroke-width="2.4" stroke-linejoin="round" clip-path="url(#cib)"/>
<text x="1060.3" y="331" font-size="17" font-weight="bold" text-anchor="end">0</text>
<text x="1060.3" y="288.4" font-size="17" font-weight="bold" text-anchor="end">0.2</text>
<text x="1060.3" y="245.8" font-size="17" font-weight="bold" text-anchor="end">0.4</text>
<text x="1060.3" y="203.1" font-size="17" font-weight="bold" text-anchor="end">0.6</text>
<text x="1060.3" y="160.5" font-size="17" font-weight="bold" text-anchor="end">0.8</text>
<text x="1154.4" y="349.5" font-size="17" font-weight="bold" text-anchor="middle">2</text>
<text x="1242.8" y="349.5" font-size="17" font-weight="bold" text-anchor="middle">2.2</text>
<text x="1331.1" y="349.5" font-size="17" font-weight="bold" text-anchor="middle">2.4</text>
<text x="1070.2" y="143.7" font-size="17.5" font-weight="bold">x10<tspan font-size="12" dy="-5.6">-3</tspan></text>
<text x="1025.5" y="643.6" font-size="24.8" font-weight="bold" text-anchor="middle">0</text>
<text x="1129" y="643.6" font-size="24.8" font-weight="bold" text-anchor="middle">0.5</text>
<text x="1232.6" y="643.6" font-size="24.8" font-weight="bold" text-anchor="middle">1</text>
<text x="1336.1" y="643.6" font-size="24.8" font-weight="bold" text-anchor="middle">1.5</text>
<text x="1439.7" y="643.6" font-size="24.8" font-weight="bold" text-anchor="middle">2</text>
<text x="1543.2" y="643.6" font-size="24.8" font-weight="bold" text-anchor="middle">2.5</text>
<text x="1646.8" y="643.6" font-size="24.8" font-weight="bold" text-anchor="middle">3</text>
<text x="1750.3" y="643.6" font-size="24.8" font-weight="bold" text-anchor="middle">3.5</text>
<text x="1016" y="619.3" font-size="24.8" font-weight="bold" text-anchor="end">0</text>
<text x="1016" y="544.4" font-size="24.8" font-weight="bold" text-anchor="end">0.01</text>
<text x="1016" y="469.6" font-size="24.8" font-weight="bold" text-anchor="end">0.02</text>
<text x="1016" y="394.7" font-size="24.8" font-weight="bold" text-anchor="end">0.03</text>
<text x="1016" y="319.8" font-size="24.8" font-weight="bold" text-anchor="end">0.04</text>
<text x="1016" y="244.9" font-size="24.8" font-weight="bold" text-anchor="end">0.05</text>
<text x="1016" y="170.1" font-size="24.8" font-weight="bold" text-anchor="end">0.06</text>
<text x="1016" y="95.2" font-size="24.8" font-weight="bold" text-anchor="end">0.07</text>
<text x="1016" y="20.3" font-size="24.8" font-weight="bold" text-anchor="end">0.08</text>
<rect x="1050.2" y="28.1" width="666.1" height="62.1" fill="#fff" stroke="#000" stroke-width="4.7" stroke-linejoin="round"/>
<line x1="1059.2" y1="60.4" x2="1112.7" y2="60.4" stroke="#5B9BD5" stroke-width="4.6"/>
<text x="1119.4" y="72.7" font-size="30" font-weight="bold" textLength="98" lengthAdjust="spacingAndGlyphs"><tspan font-style="italic">T</tspan>=300K</text>
<line x1="1225.3" y1="60.4" x2="1278" y2="60.4" stroke="#FFC000" stroke-width="4.6"/>
<text x="1281.9" y="72.7" font-size="30" font-weight="bold" textLength="98" lengthAdjust="spacingAndGlyphs"><tspan font-style="italic">T</tspan>=320K</text>
<line x1="1388.4" y1="60.4" x2="1441.9" y2="60.4" stroke="#FF0000" stroke-width="4.6"/>
<text x="1449.1" y="72.7" font-size="30" font-weight="bold" textLength="98" lengthAdjust="spacingAndGlyphs"><tspan font-style="italic">T</tspan>=340K</text>
<line x1="1553.2" y1="60.4" x2="1605.9" y2="60.4" stroke="#7030A0" stroke-width="4.6"/>
<text x="1610.6" y="72.7" font-size="30" font-weight="bold" textLength="98" lengthAdjust="spacingAndGlyphs"><tspan font-style="italic">T</tspan>=360K</text>
<rect x="1490" y="105.1" width="175.6" height="58.4" fill="#fff" stroke="#000" stroke-width="4.7" stroke-linejoin="round"/>
<g font-weight="bold"><text x="1519.6" y="143.1" font-size="31.5" font-style="italic" font-weight="normal" stroke="#111" stroke-width="0.6">λ</text><text x="1534.4" y="150.1" font-size="21" stroke="#111" stroke-width="0.3"><tspan font-style="italic">P</tspan>1</text><text transform="translate(1564.2 143.1) scale(1.22 1)" font-size="31.5">=</text><text x="1591" y="143.1" font-size="31.5">3.0</text></g>
<text x="1096" y="687.8" font-size="36" font-weight="bold" textLength="604.4" lengthAdjust="spacingAndGlyphs">Dimensionless Excitation Frequency(<tspan font-style="italic">ω</tspan>)</text>
<text transform="translate(952.3 314) rotate(-90)" font-size="36" font-weight="bold" text-anchor="middle">Amplitude(<tspan font-style="italic">θ</tspan>)</text>
<text x="1411.8" y="760.5" font-size="51.6" font-weight="normal" text-anchor="middle">(b)</text>
</g>
<clipPath id="cc"><rect x="115.3" y="829.8" width="715.5" height="600.9"/></clipPath>
<g id="panel-c">
<line x1="353.8" y1="1429.2" x2="353.8" y2="829.8" stroke="#d2d2d2" stroke-width="1.9" stroke-dasharray="10.36 10.36" stroke-dashoffset="-0.35"/>
<line x1="592.3" y1="1429.2" x2="592.3" y2="829.8" stroke="#d2d2d2" stroke-width="1.9" stroke-dasharray="10.36 10.36" stroke-dashoffset="-0.35"/>
<line x1="115.3" y1="1362.6" x2="830.8" y2="1362.6" stroke="#d2d2d2" stroke-width="1.9" stroke-dasharray="10 9.61" stroke-dashoffset="-0.60"/>
<line x1="115.3" y1="1296" x2="830.8" y2="1296" stroke="#d2d2d2" stroke-width="1.9" stroke-dasharray="10 9.61" stroke-dashoffset="-0.60"/>
<line x1="115.3" y1="1229.4" x2="830.8" y2="1229.4" stroke="#d2d2d2" stroke-width="1.9" stroke-dasharray="10 9.61" stroke-dashoffset="-0.60"/>
<line x1="115.3" y1="1162.8" x2="830.8" y2="1162.8" stroke="#d2d2d2" stroke-width="1.9" stroke-dasharray="10 9.61" stroke-dashoffset="-0.60"/>
<line x1="115.3" y1="1096.2" x2="830.8" y2="1096.2" stroke="#d2d2d2" stroke-width="1.9" stroke-dasharray="10 9.61" stroke-dashoffset="-0.60"/>
<line x1="115.3" y1="1029.6" x2="830.8" y2="1029.6" stroke="#d2d2d2" stroke-width="1.9" stroke-dasharray="10 9.61" stroke-dashoffset="-0.60"/>
<line x1="115.3" y1="963" x2="830.8" y2="963" stroke="#d2d2d2" stroke-width="1.9" stroke-dasharray="10 9.61" stroke-dashoffset="-0.60"/>
<line x1="115.3" y1="896.4" x2="830.8" y2="896.4" stroke="#d2d2d2" stroke-width="1.9" stroke-dasharray="10 9.61" stroke-dashoffset="-0.60"/>
<path d="M163 1429.2v-5M163 829.8v5M210.7 1429.2v-5M210.7 829.8v5M258.4 1429.2v-5M258.4 829.8v5M306.1 1429.2v-5M306.1 829.8v5M401.5 1429.2v-5M401.5 829.8v5M449.2 1429.2v-5M449.2 829.8v5M496.9 1429.2v-5M496.9 829.8v5M544.6 1429.2v-5M544.6 829.8v5M640 1429.2v-5M640 829.8v5M687.7 1429.2v-5M687.7 829.8v5M735.4 1429.2v-5M735.4 829.8v5M783.1 1429.2v-5M783.1 829.8v5M353.8 1429.2v-6.6M353.8 829.8v6.6M592.3 1429.2v-6.6M592.3 829.8v6.6M115.3 1415.9h5M830.8 1415.9h-5M115.3 1402.6h5M830.8 1402.6h-5M115.3 1389.2h5M830.8 1389.2h-5M115.3 1375.9h5M830.8 1375.9h-5M115.3 1349.3h5M830.8 1349.3h-5M115.3 1336h5M830.8 1336h-5M115.3 1322.6h5M830.8 1322.6h-5M115.3 1309.3h5M830.8 1309.3h-5M115.3 1282.7h5M830.8 1282.7h-5M115.3 1269.4h5M830.8 1269.4h-5M115.3 1256h5M830.8 1256h-5M115.3 1242.7h5M830.8 1242.7h-5M115.3 1216.1h5M830.8 1216.1h-5M115.3 1202.8h5M830.8 1202.8h-5M115.3 1189.4h5M830.8 1189.4h-5M115.3 1176.1h5M830.8 1176.1h-5M115.3 1149.5h5M830.8 1149.5h-5M115.3 1136.2h5M830.8 1136.2h-5M115.3 1122.8h5M830.8 1122.8h-5M115.3 1109.5h5M830.8 1109.5h-5M115.3 1082.9h5M830.8 1082.9h-5M115.3 1069.6h5M830.8 1069.6h-5M115.3 1056.2h5M830.8 1056.2h-5M115.3 1042.9h5M830.8 1042.9h-5M115.3 1016.3h5M830.8 1016.3h-5M115.3 1003h5M830.8 1003h-5M115.3 989.6h5M830.8 989.6h-5M115.3 976.3h5M830.8 976.3h-5M115.3 949.7h5M830.8 949.7h-5M115.3 936.4h5M830.8 936.4h-5M115.3 923h5M830.8 923h-5M115.3 909.7h5M830.8 909.7h-5M115.3 883.1h5M830.8 883.1h-5M115.3 869.8h5M830.8 869.8h-5M115.3 856.4h5M830.8 856.4h-5M115.3 843.1h5M830.8 843.1h-5M115.3 1362.6h8.2M830.8 1362.6h-8.2M115.3 1296h8.2M830.8 1296h-8.2M115.3 1229.4h8.2M830.8 1229.4h-8.2M115.3 1162.8h8.2M830.8 1162.8h-8.2M115.3 1096.2h8.2M830.8 1096.2h-8.2M115.3 1029.6h8.2M830.8 1029.6h-8.2M115.3 963h8.2M830.8 963h-8.2M115.3 896.4h8.2M830.8 896.4h-8.2" stroke="#262626" stroke-width="2.4" fill="none"/>
<rect x="115.3" y="829.8" width="715.5" height="599.4" fill="none" stroke="#262626" stroke-width="2.8"/>
<polyline points="163,1428 177.3,1428 191.6,1428 205.9,1428 220.2,1427.9 234.6,1427.8 248.9,1427.6 263.2,1427.2 277.5,1426.6 291.8,1425.2 306.1,1423.6 320.4,1417.9 334.7,1403.2 349,1246.4 363.3,1404.3 377.6,1413.4 392,1418.4 406.3,1420.6 420.6,1421.5 434.9,1422 449.2,1422 463.5,1421.7 477.8,1421.2 492.1,1419.9 506.4,1417.2 520.8,1415 535.1,1410.9 549.4,1403.2 563.7,1383.3 578,848.1 592.3,1368.7 606.6,1401.4 620.9,1410 635.2,1414.5 649.5,1416.8 663.9,1418.4 678.2,1419.5 692.5,1420.2 706.8,1420.8 721.1,1421.3 735.4,1421.7 749.7,1422 764,1422.3 778.3,1422.5 792.6,1422.7 806.9,1422.8 821.3,1422.9" fill="none" stroke="#0072BD" stroke-width="2.5" stroke-linejoin="round" stroke-linecap="butt" clip-path="url(#cc)"/>
<polyline points="163,1428.4 177.3,1428.4 191.6,1428.4 205.9,1428.4 220.2,1428.4 234.6,1428.4 248.9,1428.4 263.2,1428.2 277.5,1425.8 291.8,1424.2 306.1,1420.2 320.4,1407.7 334.7,1349.8 349,1415.6 363.3,1420.2 377.6,1422.9 392,1424 406.3,1424.7 420.6,1424.7 434.9,1424.2 449.2,1423.7 463.5,1422.9 477.8,1421.7 492.1,1419 506.4,1415 520.8,1409.3 535.1,1386 549.4,1170.5 563.7,1395.8 578,1410.4 592.3,1416.1 606.6,1419 620.9,1420.6 635.2,1421.7 649.5,1422.2 663.9,1422.6 678.2,1422.9 692.5,1423.1 706.8,1423.2 721.1,1423.3 735.4,1423.4 749.7,1423.5 764,1423.5 778.3,1423.6 792.6,1423.6 806.9,1423.6 821.3,1423.6" fill="none" stroke="#EDB120" stroke-width="2.5" stroke-linejoin="round" stroke-linecap="butt" clip-path="url(#cc)"/>
<polyline points="163,1427.7 177.3,1427.6 191.6,1427.5 205.9,1427.4 220.2,1427.3 234.6,1427.2 248.9,1427 263.2,1426.6 277.5,1424.7 291.8,1420.6 306.1,1277.6 320.4,1417 334.7,1423.1 349,1425.4 363.3,1426 377.6,1426.3 392,1426.3 406.3,1426 420.6,1425.6 434.9,1425 449.2,1424.2 463.5,1422.2 477.8,1416.1 492.1,1385.1 506.4,1387.4 520.8,1413.8 535.1,1417.7 549.4,1420.6 563.7,1422.2 578,1423.1 592.3,1423.8 606.6,1424.2 620.9,1424.3 635.2,1424.4 649.5,1424.5 663.9,1424.5 678.2,1424.6 692.5,1424.6 706.8,1424.6 721.1,1424.7 735.4,1424.7 749.7,1424.7 764,1424.7 778.3,1424.7 792.6,1424.7 806.9,1424.7 821.3,1424.7" fill="none" stroke="#FF0000" stroke-width="2.5" stroke-linejoin="round" stroke-linecap="butt" clip-path="url(#cc)"/>
<polyline points="163,1428.7 177.3,1428.6 191.6,1428.4 205.9,1428.2 220.2,1427.9 234.6,1427.4 248.9,1427.4 263.2,1421.3 277.5,1413.8 291.8,1425.8 306.1,1427.4 320.4,1427.7 334.7,1427.7 349,1427.7 363.3,1428.1 377.6,1405 392,1426.5 406.3,1425.8 420.6,1416.8 434.9,1398.7 449.2,1423.6 463.5,1425.8 477.8,1426.5 492.1,1426.7 506.4,1426.5 520.8,1426.7 535.1,1426.9 549.4,1427 563.7,1427.1 578,1427.2 592.3,1427.2 606.6,1427.2 620.9,1427.3 635.2,1427.3 649.5,1427.3 663.9,1427.3 678.2,1427.4 692.5,1427.4 706.8,1427.4 721.1,1427.4 735.4,1427.4 749.7,1427.4 764,1427.4 778.3,1427.4 792.6,1427.4 806.9,1427.4 821.3,1427.4" fill="none" stroke="#B84DFF" stroke-width="2.5" stroke-linejoin="round" stroke-linecap="butt" clip-path="url(#cc)"/>
<polyline points="163,1429.2 821.3,1429.2" fill="none" stroke="#D95319" stroke-width="3.2" stroke-linejoin="round" stroke-linecap="butt" clip-path="url(#cc)"/>
<rect x="120" y="990" width="334" height="255" fill="#fff"/>
<line x1="296.6" y1="1017" x2="296.6" y2="1208.1" stroke="#d2d2d2" stroke-width="1.5" stroke-dasharray="7 7"/>
<line x1="426.6" y1="1017" x2="426.6" y2="1208.1" stroke="#d2d2d2" stroke-width="1.5" stroke-dasharray="7 7"/>
<line x1="163.3" y1="1151.9" x2="448" y2="1151.9" stroke="#d2d2d2" stroke-width="1.5" stroke-dasharray="7 7"/>
<line x1="163.3" y1="1095.7" x2="448" y2="1095.7" stroke="#d2d2d2" stroke-width="1.5" stroke-dasharray="7 7"/>
<line x1="163.3" y1="1039.5" x2="448" y2="1039.5" stroke="#d2d2d2" stroke-width="1.5" stroke-dasharray="7 7"/>
<clipPath id="cic"><rect x="161.8" y="1015" width="286.7" height="195.1"/></clipPath>
<path d="M192.6 1208.1v-3.6M218.6 1208.1v-3.6M244.6 1208.1v-3.6M270.6 1208.1v-3.6M322.6 1208.1v-3.6M348.6 1208.1v-3.6M374.6 1208.1v-3.6M400.6 1208.1v-3.6M166.6 1208.1v-6M296.6 1208.1v-6M426.6 1208.1v-6M163.3 1196.9h3.6M163.3 1185.6h3.6M163.3 1174.4h3.6M163.3 1163.1h3.6M163.3 1140.7h3.6M163.3 1129.4h3.6M163.3 1118.2h3.6M163.3 1106.9h3.6M163.3 1084.5h3.6M163.3 1073.2h3.6M163.3 1062h3.6M163.3 1050.7h3.6M163.3 1028.3h3.6M163.3 1151.9h6M163.3 1095.7h6M163.3 1039.5h6" stroke="#262626" stroke-width="1.5" fill="none"/>
<path d="M163.3 1017V1208.1H448" fill="none" stroke="#262626" stroke-width="2.0"/>
<polyline points="161.5,1208.1 448,1208.1" fill="none" stroke="#D95319" stroke-width="2.8" stroke-linejoin="round" clip-path="url(#cic)"/>
<polyline points="163.3,1190.5 448,1191.9" fill="none" stroke="#B84DFF" stroke-width="2.8" stroke-linejoin="round" clip-path="url(#cic)"/>
<polyline points="163.3,1158.4 204,1154.8 244.6,1163.4 296.6,1163.4 361,1165.6 448,1168.6" fill="none" stroke="#FF0000" stroke-width="2.8" stroke-linejoin="round" clip-path="url(#cic)"/>
<polyline points="163.3,1092.2 204,1118.2 244.6,1134 283.1,1141.9 326,1148 361,1152.1 400.6,1156.2 439,1158.9 448,1158.2" fill="none" stroke="#EDB120" stroke-width="2.8" stroke-linejoin="round" clip-path="url(#cic)"/>
<polyline points="229.9,1016.9 244.6,1041.4 283.1,1080.5 296.6,1086.6 326,1101.2 361,1117.5 400.6,1123.2 439,1134.5 448,1135.6" fill="none" stroke="#0072BD" stroke-width="2.8" stroke-linejoin="round" clip-path="url(#cic)"/>
<text x="154.6" y="1216.1" font-size="22" font-weight="bold" text-anchor="end">0</text>
<text x="154.6" y="1159.9" font-size="22" font-weight="bold" text-anchor="end">0.5</text>
<text x="154.6" y="1103.7" font-size="22" font-weight="bold" text-anchor="end">1</text>
<text x="154.6" y="1047.5" font-size="22" font-weight="bold" text-anchor="end">1.5</text>
<text x="166.6" y="1235.5" font-size="21" font-weight="bold" text-anchor="middle">1</text>
<text x="296.6" y="1235.5" font-size="21" font-weight="bold" text-anchor="middle">1.1</text>
<text x="426.6" y="1235.5" font-size="21" font-weight="bold" text-anchor="middle">1.2</text>
<text x="173.8" y="1013.4" font-size="24" font-weight="bold">x10<tspan font-size="16" dy="-7.7">-3</tspan></text>
<text x="115.3" y="1462.6" font-size="24.8" font-weight="bold" text-anchor="middle">0</text>
<text x="353.8" y="1462.6" font-size="24.8" font-weight="bold" text-anchor="middle">0.5</text>
<text x="592.3" y="1462.6" font-size="24.8" font-weight="bold" text-anchor="middle">1</text>
<text x="830.8" y="1462.6" font-size="24.8" font-weight="bold" text-anchor="middle">1.5</text>
<text x="105.8" y="1437.5" font-size="24.8" font-weight="bold" text-anchor="end">0</text>
<text x="105.8" y="1370.9" font-size="24.8" font-weight="bold" text-anchor="end">0.005</text>
<text x="105.8" y="1304.3" font-size="24.8" font-weight="bold" text-anchor="end">0.01</text>
<text x="105.8" y="1237.7" font-size="24.8" font-weight="bold" text-anchor="end">0.015</text>
<text x="105.8" y="1171.1" font-size="24.8" font-weight="bold" text-anchor="end">0.02</text>
<text x="105.8" y="1104.5" font-size="24.8" font-weight="bold" text-anchor="end">0.025</text>
<text x="105.8" y="1037.9" font-size="24.8" font-weight="bold" text-anchor="end">0.03</text>
<text x="105.8" y="971.3" font-size="24.8" font-weight="bold" text-anchor="end">0.035</text>
<text x="105.8" y="904.7" font-size="24.8" font-weight="bold" text-anchor="end">0.04</text>
<text x="105.8" y="838.1" font-size="24.8" font-weight="bold" text-anchor="end">0.045</text>
<line x1="466" y1="871.6" x2="469.5" y2="871.6" stroke="#FF0000" stroke-width="3"/>
<path d="M123.3 935.2h2.2M123.3 951.6h2.2" stroke="#0072BD" stroke-width="1.6"/>
<rect x="126.8" y="840.6" width="336.4" height="57" fill="#fff" stroke="#000" stroke-width="4.7" stroke-linejoin="round"/>
<line x1="135.6" y1="871.6" x2="189.3" y2="871.6" stroke="#5B9BD5" stroke-width="4.4"/>
<text x="196.5" y="883.3" font-size="28.8" font-weight="bold" textLength="98" lengthAdjust="spacingAndGlyphs"><tspan font-style="italic">T</tspan>=300K</text>
<line x1="302.4" y1="871.6" x2="356.1" y2="871.6" stroke="#FFC000" stroke-width="4.4"/>
<text x="361.3" y="883.3" font-size="28.8" font-weight="bold" textLength="98" lengthAdjust="spacingAndGlyphs"><tspan font-style="italic">T</tspan>=320K</text>
<rect x="128.3" y="911.1" width="334.8" height="57" fill="#fff" stroke="#000" stroke-width="4.7" stroke-linejoin="round"/>
<line x1="135.6" y1="942.1" x2="189.3" y2="942.1" stroke="#FF0000" stroke-width="4.4"/>
<text x="196.5" y="953.8" font-size="28.8" font-weight="bold" textLength="98" lengthAdjust="spacingAndGlyphs"><tspan font-style="italic">T</tspan>=340K</text>
<line x1="301.8" y1="942.1" x2="355.3" y2="942.1" stroke="#7030A0" stroke-width="4.4"/>
<text x="361.3" y="953.8" font-size="28.8" font-weight="bold" textLength="98" lengthAdjust="spacingAndGlyphs"><tspan font-style="italic">T</tspan>=360K</text>
<rect x="644.1" y="839.1" width="175.6" height="54.9" fill="#fff" stroke="#000" stroke-width="4.7" stroke-linejoin="round"/>
<g font-weight="bold"><text x="673.6" y="875.3" font-size="31.5" font-style="italic" font-weight="normal" stroke="#111" stroke-width="0.6">λ</text><text x="688.4" y="882.3" font-size="21" stroke="#111" stroke-width="0.3"><tspan font-style="italic">P</tspan>1</text><text transform="translate(718.2 875.3) scale(1.22 1)" font-size="31.5">=</text><text x="745" y="875.3" font-size="31.5">4.0</text></g>
<text x="177.5" y="1506" font-size="36" font-weight="bold" textLength="609" lengthAdjust="spacingAndGlyphs">Dimensionless Excitation Frequency(<tspan font-style="italic">ω</tspan>)</text>
<text transform="translate(33.6 1117.1) rotate(-90)" font-size="36" font-weight="bold" text-anchor="middle" textLength="204" lengthAdjust="spacingAndGlyphs">Amplitude(<tspan font-style="italic">θ</tspan>)</text>
<text x="491.7" y="1591.8" font-size="51.6" font-weight="normal" text-anchor="middle">(c)</text>
</g>
<clipPath id="cd"><rect x="1036.3" y="832.4" width="722" height="597.9"/></clipPath>
<g id="panel-d">
<line x1="1116.5" y1="1428.8" x2="1116.5" y2="832.4" stroke="#d2d2d2" stroke-width="1.9" stroke-dasharray="10.36 10.36" stroke-dashoffset="-0.35"/>
<line x1="1196.7" y1="1428.8" x2="1196.7" y2="832.4" stroke="#d2d2d2" stroke-width="1.9" stroke-dasharray="10.36 10.36" stroke-dashoffset="-0.35"/>
<line x1="1277" y1="1428.8" x2="1277" y2="832.4" stroke="#d2d2d2" stroke-width="1.9" stroke-dasharray="10.36 10.36" stroke-dashoffset="-0.35"/>
<line x1="1357.2" y1="1428.8" x2="1357.2" y2="832.4" stroke="#d2d2d2" stroke-width="1.9" stroke-dasharray="10.36 10.36" stroke-dashoffset="-0.35"/>
<line x1="1437.4" y1="1428.8" x2="1437.4" y2="832.4" stroke="#d2d2d2" stroke-width="1.9" stroke-dasharray="10.36 10.36" stroke-dashoffset="-0.35"/>
<line x1="1517.6" y1="1428.8" x2="1517.6" y2="832.4" stroke="#d2d2d2" stroke-width="1.9" stroke-dasharray="10.36 10.36" stroke-dashoffset="-0.35"/>
<line x1="1597.9" y1="1428.8" x2="1597.9" y2="832.4" stroke="#d2d2d2" stroke-width="1.9" stroke-dasharray="10.36 10.36" stroke-dashoffset="-0.35"/>
<line x1="1678.1" y1="1428.8" x2="1678.1" y2="832.4" stroke="#d2d2d2" stroke-width="1.9" stroke-dasharray="10.36 10.36" stroke-dashoffset="-0.35"/>
<line x1="1036.3" y1="1369.2" x2="1758.3" y2="1369.2" stroke="#d2d2d2" stroke-width="1.9" stroke-dasharray="10 9.79" stroke-dashoffset="-0.60"/>
<line x1="1036.3" y1="1309.5" x2="1758.3" y2="1309.5" stroke="#d2d2d2" stroke-width="1.9" stroke-dasharray="10 9.79" stroke-dashoffset="-0.60"/>
<line x1="1036.3" y1="1249.9" x2="1758.3" y2="1249.9" stroke="#d2d2d2" stroke-width="1.9" stroke-dasharray="10 9.79" stroke-dashoffset="-0.60"/>
<line x1="1036.3" y1="1190.2" x2="1758.3" y2="1190.2" stroke="#d2d2d2" stroke-width="1.9" stroke-dasharray="10 9.79" stroke-dashoffset="-0.60"/>
<line x1="1036.3" y1="1130.6" x2="1758.3" y2="1130.6" stroke="#d2d2d2" stroke-width="1.9" stroke-dasharray="10 9.79" stroke-dashoffset="-0.60"/>
<line x1="1036.3" y1="1071" x2="1758.3" y2="1071" stroke="#d2d2d2" stroke-width="1.9" stroke-dasharray="10 9.79" stroke-dashoffset="-0.60"/>
<line x1="1036.3" y1="1011.3" x2="1758.3" y2="1011.3" stroke="#d2d2d2" stroke-width="1.9" stroke-dasharray="10 9.79" stroke-dashoffset="-0.60"/>
<line x1="1036.3" y1="951.7" x2="1758.3" y2="951.7" stroke="#d2d2d2" stroke-width="1.9" stroke-dasharray="10 9.79" stroke-dashoffset="-0.60"/>
<line x1="1036.3" y1="892" x2="1758.3" y2="892" stroke="#d2d2d2" stroke-width="1.9" stroke-dasharray="10 9.79" stroke-dashoffset="-0.60"/>
<path d="M1052.3 1428.8v-5M1052.3 832.4v5M1068.4 1428.8v-5M1068.4 832.4v5M1084.4 1428.8v-5M1084.4 832.4v5M1100.5 1428.8v-5M1100.5 832.4v5M1132.6 1428.8v-5M1132.6 832.4v5M1148.6 1428.8v-5M1148.6 832.4v5M1164.7 1428.8v-5M1164.7 832.4v5M1180.7 1428.8v-5M1180.7 832.4v5M1212.8 1428.8v-5M1212.8 832.4v5M1228.8 1428.8v-5M1228.8 832.4v5M1244.9 1428.8v-5M1244.9 832.4v5M1260.9 1428.8v-5M1260.9 832.4v5M1293 1428.8v-5M1293 832.4v5M1309.1 1428.8v-5M1309.1 832.4v5M1325.1 1428.8v-5M1325.1 832.4v5M1341.1 1428.8v-5M1341.1 832.4v5M1373.2 1428.8v-5M1373.2 832.4v5M1389.3 1428.8v-5M1389.3 832.4v5M1405.3 1428.8v-5M1405.3 832.4v5M1421.4 1428.8v-5M1421.4 832.4v5M1453.5 1428.8v-5M1453.5 832.4v5M1469.5 1428.8v-5M1469.5 832.4v5M1485.5 1428.8v-5M1485.5 832.4v5M1501.6 1428.8v-5M1501.6 832.4v5M1533.7 1428.8v-5M1533.7 832.4v5M1549.7 1428.8v-5M1549.7 832.4v5M1565.8 1428.8v-5M1565.8 832.4v5M1581.8 1428.8v-5M1581.8 832.4v5M1613.9 1428.8v-5M1613.9 832.4v5M1629.9 1428.8v-5M1629.9 832.4v5M1646 1428.8v-5M1646 832.4v5M1662 1428.8v-5M1662 832.4v5M1694.1 1428.8v-5M1694.1 832.4v5M1710.2 1428.8v-5M1710.2 832.4v5M1726.2 1428.8v-5M1726.2 832.4v5M1742.3 1428.8v-5M1742.3 832.4v5M1116.5 1428.8v-6.6M1116.5 832.4v6.6M1196.7 1428.8v-6.6M1196.7 832.4v6.6M1277 1428.8v-6.6M1277 832.4v6.6M1357.2 1428.8v-6.6M1357.2 832.4v6.6M1437.4 1428.8v-6.6M1437.4 832.4v6.6M1517.6 1428.8v-6.6M1517.6 832.4v6.6M1597.9 1428.8v-6.6M1597.9 832.4v6.6M1678.1 1428.8v-6.6M1678.1 832.4v6.6M1036.3 1413.9h5M1758.3 1413.9h-5M1036.3 1399h5M1758.3 1399h-5M1036.3 1384.1h5M1758.3 1384.1h-5M1036.3 1354.2h5M1758.3 1354.2h-5M1036.3 1339.3h5M1758.3 1339.3h-5M1036.3 1324.4h5M1758.3 1324.4h-5M1036.3 1294.6h5M1758.3 1294.6h-5M1036.3 1279.7h5M1758.3 1279.7h-5M1036.3 1264.8h5M1758.3 1264.8h-5M1036.3 1235h5M1758.3 1235h-5M1036.3 1220.1h5M1758.3 1220.1h-5M1036.3 1205.2h5M1758.3 1205.2h-5M1036.3 1175.3h5M1758.3 1175.3h-5M1036.3 1160.4h5M1758.3 1160.4h-5M1036.3 1145.5h5M1758.3 1145.5h-5M1036.3 1115.7h5M1758.3 1115.7h-5M1036.3 1100.8h5M1758.3 1100.8h-5M1036.3 1085.9h5M1758.3 1085.9h-5M1036.3 1056h5M1758.3 1056h-5M1036.3 1041.1h5M1758.3 1041.1h-5M1036.3 1026.2h5M1758.3 1026.2h-5M1036.3 996.4h5M1758.3 996.4h-5M1036.3 981.5h5M1758.3 981.5h-5M1036.3 966.6h5M1758.3 966.6h-5M1036.3 936.8h5M1758.3 936.8h-5M1036.3 921.9h5M1758.3 921.9h-5M1036.3 906.9h5M1758.3 906.9h-5M1036.3 877.1h5M1758.3 877.1h-5M1036.3 862.2h5M1758.3 862.2h-5M1036.3 847.3h5M1758.3 847.3h-5M1036.3 1369.2h8.2M1758.3 1369.2h-8.2M1036.3 1309.5h8.2M1758.3 1309.5h-8.2M1036.3 1249.9h8.2M1758.3 1249.9h-8.2M1036.3 1190.2h8.2M1758.3 1190.2h-8.2M1036.3 1130.6h8.2M1758.3 1130.6h-8.2M1036.3 1071h8.2M1758.3 1071h-8.2M1036.3 1011.3h8.2M1758.3 1011.3h-8.2M1036.3 951.7h8.2M1758.3 951.7h-8.2M1036.3 892h8.2M1758.3 892h-8.2" stroke="#262626" stroke-width="2.4" fill="none"/>
<rect x="1036.3" y="832.4" width="722" height="596.4" fill="none" stroke="#262626" stroke-width="2.8"/>
<polyline points="1036.3,1424.8 1060.4,1424.6 1084.4,1424.3 1108.5,1424 1132.6,1423.8 1156.6,1423.3 1180.7,1422.7 1204.8,1418.2 1228.8,1406.9 1252.9,1316.8 1277,1379.8 1301,1406.2 1325.1,1413 1349.2,1416.6 1373.2,1418.2 1397.3,1418.9 1421.4,1418.2 1437.4,1415.9 1477.5,1410.3 1517.6,1394 1541.7,1354.9 1565.8,843.6 1589.8,1367.3 1613.9,1395.6 1638,1404.6 1662,1410.3 1686.1,1413.7 1710.2,1415.2 1734.2,1416.4 1758.3,1416.4" fill="none" stroke="#0072BD" stroke-width="2.5" stroke-linejoin="round" stroke-linecap="butt" clip-path="url(#cd)"/>
<polyline points="1036.3,1425.8 1060.4,1425.6 1084.4,1425.3 1108.5,1424.8 1132.6,1424.3 1156.6,1423.8 1180.7,1420.4 1204.8,1415.9 1228.8,1385.4 1252.9,1375.2 1277,1410.3 1301,1416.6 1325.1,1418.9 1349.2,1419.3 1373.2,1418.9 1397.3,1417.5 1421.4,1418.9 1437.4,1416.6 1477.5,1405.7 1517.6,1309.7 1565.8,1397.8 1589.8,1408.5 1613.9,1413.7 1638,1415.9 1662,1418.2 1686.1,1418.8 1710.2,1419.3 1734.2,1419.6 1758.3,1419.8" fill="none" stroke="#EDB120" stroke-width="2.5" stroke-linejoin="round" stroke-linecap="butt" clip-path="url(#cd)"/>
<polyline points="1036.3,1425.6 1060.4,1425.4 1084.4,1425 1108.5,1424.4 1132.6,1423.8 1156.6,1422.7 1180.7,1418.9 1204.8,1391.7 1228.8,1405.3 1252.9,1418.2 1277,1421.6 1301,1422.7 1325.1,1423.4 1349.2,1422 1373.2,1420.4 1397.3,1418.2 1421.4,1413.7 1437.4,1407.6 1477.5,1350.4 1517.6,1412.1 1541.7,1417 1565.8,1419.3 1589.8,1420.6 1613.9,1421.1 1638,1421.5 1662,1421.8 1686.1,1422.1 1710.2,1422.3 1734.2,1422.5 1758.3,1422.7" fill="none" stroke="#FF0000" stroke-width="2.5" stroke-linejoin="round" stroke-linecap="butt" clip-path="url(#cd)"/>
<polyline points="1036.3,1426.1 1060.4,1426.1 1084.4,1425.9 1108.5,1425.6 1132.6,1425 1156.6,1420.4 1180.7,1404.6 1204.8,1422.7 1228.8,1425 1252.9,1425.2 1277,1425.4 1301,1425.4 1325.1,1425 1349.2,1421.6 1373.2,1410.3 1397.3,1375.2 1421.4,1416.6 1437.4,1419.3 1477.5,1421.6 1517.6,1423.8 1565.8,1424.3 1613.9,1424.6 1662,1424.9 1710.2,1425.2 1758.3,1425.4" fill="none" stroke="#B84DFF" stroke-width="2.5" stroke-linejoin="round" stroke-linecap="butt" clip-path="url(#cd)"/>
<polyline points="1036.3,1428.8 1758.3,1428.8" fill="none" stroke="#D95319" stroke-width="3.6" stroke-linejoin="round" stroke-linecap="butt" clip-path="url(#cd)"/>
<rect x="1040" y="994" width="340" height="341" fill="#fff"/>
<line x1="1135.1" y1="1028.9" x2="1135.1" y2="1308" stroke="#d2d2d2" stroke-width="1.5" stroke-dasharray="7 7"/>
<line x1="1205.5" y1="1028.9" x2="1205.5" y2="1308" stroke="#d2d2d2" stroke-width="1.5" stroke-dasharray="7 7"/>
<line x1="1275.9" y1="1028.9" x2="1275.9" y2="1308" stroke="#d2d2d2" stroke-width="1.5" stroke-dasharray="7 7"/>
<line x1="1346.3" y1="1028.9" x2="1346.3" y2="1308" stroke="#d2d2d2" stroke-width="1.5" stroke-dasharray="7 7"/>
<line x1="1064.1" y1="1137.9" x2="1371" y2="1137.9" stroke="#d2d2d2" stroke-width="1.5" stroke-dasharray="7 7"/>
<clipPath id="cid"><rect x="1062.6" y="1026.9" width="308.9" height="283.1"/></clipPath>
<path d="M1078.8 1308v-2.8M1092.9 1308v-2.8M1106.9 1308v-2.8M1121 1308v-2.8M1149.2 1308v-2.8M1163.3 1308v-2.8M1177.3 1308v-2.8M1191.4 1308v-2.8M1219.6 1308v-2.8M1233.7 1308v-2.8M1247.7 1308v-2.8M1261.8 1308v-2.8M1290 1308v-2.8M1304.1 1308v-2.8M1318.1 1308v-2.8M1332.2 1308v-2.8M1360.4 1308v-2.8M1135.1 1308v-4.8M1205.5 1308v-4.8M1275.9 1308v-4.8M1346.3 1308v-4.8M1064.1 1274h2.8M1064.1 1240h2.8M1064.1 1205.9h2.8M1064.1 1171.9h2.8M1064.1 1103.9h2.8M1064.1 1069.9h2.8M1064.1 1035.8h2.8M1064.1 1137.9h4.8" stroke="#3a3a3a" stroke-width="1.5" fill="none"/>
<path d="M1064.1 1028.9V1308H1371" fill="none" stroke="#3a3a3a" stroke-width="2.3"/>
<polyline points="1064.1,1200.5 1135.7,1200.7 1205.3,1198.4 1276,1196.2 1346.1,1193.7 1371,1189.4" fill="none" stroke="#B84DFF" stroke-width="2.1" stroke-linejoin="round" clip-path="url(#cid)"/>
<polyline points="1064.1,1127 1135.7,1142.4 1205.3,1143.5 1276,1144.6 1346.1,1146.2 1371,1142.4" fill="none" stroke="#FF0000" stroke-width="2.1" stroke-linejoin="round" clip-path="url(#cid)"/>
<polyline points="1064.1,1105.1 1135.7,1104.4 1205.3,1098.3 1276,1092.7 1346.1,1087.7 1371,1082.5" fill="none" stroke="#EDB120" stroke-width="2.1" stroke-linejoin="round" clip-path="url(#cid)"/>
<polyline points="1064.1,1059.9 1135.7,1052 1205.3,1049.3 1276,1046.8 1346.1,1044.5 1371,1042.3" fill="none" stroke="#0072BD" stroke-width="2.1" stroke-linejoin="round" clip-path="url(#cid)"/>
<text x="1057" y="1144" font-size="14.5" font-weight="bold" text-anchor="end">1</text>
<text x="1057.5" y="1313" font-size="13.5" font-weight="bold" text-anchor="end">0</text>
<text x="1064.7" y="1329" font-size="15" font-weight="bold" text-anchor="middle">0.12</text>
<text x="1135.1" y="1329" font-size="15" font-weight="bold" text-anchor="middle">0.13</text>
<text x="1205.5" y="1329" font-size="15" font-weight="bold" text-anchor="middle">0.14</text>
<text x="1275.9" y="1329" font-size="15" font-weight="bold" text-anchor="middle">0.15</text>
<text x="1346.3" y="1329" font-size="15" font-weight="bold" text-anchor="middle">0.16</text>
<text x="1071.8" y="1031.2" font-size="27" font-weight="bold">x10<tspan font-size="18" dy="-8.6">-3</tspan></text>
<text x="1036.3" y="1462.3" font-size="24.8" font-weight="bold" text-anchor="middle">0.1</text>
<text x="1116.5" y="1462.3" font-size="24.8" font-weight="bold" text-anchor="middle">0.2</text>
<text x="1196.7" y="1462.3" font-size="24.8" font-weight="bold" text-anchor="middle">0.3</text>
<text x="1277" y="1462.3" font-size="24.8" font-weight="bold" text-anchor="middle">0.4</text>
<text x="1357.2" y="1462.3" font-size="24.8" font-weight="bold" text-anchor="middle">0.5</text>
<text x="1437.4" y="1462.3" font-size="24.8" font-weight="bold" text-anchor="middle">0.6</text>
<text x="1517.6" y="1462.3" font-size="24.8" font-weight="bold" text-anchor="middle">0.7</text>
<text x="1597.9" y="1462.3" font-size="24.8" font-weight="bold" text-anchor="middle">0.8</text>
<text x="1678.1" y="1462.3" font-size="24.8" font-weight="bold" text-anchor="middle">0.9</text>
<text x="1758.3" y="1462.3" font-size="24.8" font-weight="bold" text-anchor="middle">1</text>
<text x="1026.8" y="1437.1" font-size="24.8" font-weight="bold" text-anchor="end">0</text>
<text x="1026.8" y="1377.5" font-size="24.8" font-weight="bold" text-anchor="end">0.002</text>
<text x="1026.8" y="1317.8" font-size="24.8" font-weight="bold" text-anchor="end">0.004</text>
<text x="1026.8" y="1258.2" font-size="24.8" font-weight="bold" text-anchor="end">0.006</text>
<text x="1026.8" y="1198.5" font-size="24.8" font-weight="bold" text-anchor="end">0.008</text>
<text x="1026.8" y="1138.9" font-size="24.8" font-weight="bold" text-anchor="end">0.01</text>
<text x="1026.8" y="1079.3" font-size="24.8" font-weight="bold" text-anchor="end">0.012</text>
<text x="1026.8" y="1019.6" font-size="24.8" font-weight="bold" text-anchor="end">0.014</text>
<text x="1026.8" y="960" font-size="24.8" font-weight="bold" text-anchor="end">0.016</text>
<text x="1026.8" y="900.3" font-size="24.8" font-weight="bold" text-anchor="end">0.018</text>
<text x="1026.8" y="840.7" font-size="24.8" font-weight="bold" text-anchor="end">0.02</text>
<line x1="1555" y1="878.9" x2="1559" y2="878.9" stroke="#6A22A8" stroke-width="3.4"/>
<line x1="1578.6" y1="873.5" x2="1578.6" y2="893" stroke="#1f2d3d" stroke-width="1.7" stroke-dasharray="5 3.5"/>
<rect x="1046" y="839.8" width="510" height="6.2" fill="#fff"/>
<rect x="1579" y="839.8" width="173" height="8.2" fill="#fff"/>
<rect x="1046" y="907" width="510" height="9" fill="#fff"/>
<rect x="1049.9" y="848.1" width="503.1" height="57.1" fill="#fff" stroke="#000" stroke-width="4.7" stroke-linejoin="round"/>
<line x1="1058" y1="878.9" x2="1111.4" y2="878.9" stroke="#5B9BD5" stroke-width="4.1"/>
<text x="1117.9" y="890" font-size="30" font-weight="bold" textLength="98" lengthAdjust="spacingAndGlyphs"><tspan font-style="italic">T</tspan>=300K</text>
<line x1="1224.5" y1="878.9" x2="1277.5" y2="878.9" stroke="#FFC000" stroke-width="4.1"/>
<text x="1281.2" y="890" font-size="30" font-weight="bold" textLength="98" lengthAdjust="spacingAndGlyphs"><tspan font-style="italic">T</tspan>=320K</text>
<line x1="1388.9" y1="878.9" x2="1443.1" y2="878.9" stroke="#FF0000" stroke-width="4.1"/>
<text x="1448.4" y="890" font-size="30" font-weight="bold" textLength="98" lengthAdjust="spacingAndGlyphs"><tspan font-style="italic">T</tspan>=340K</text>
<rect x="1581.2" y="849.8" width="167.7" height="57.9" fill="#fff" stroke="#000" stroke-width="4.7" stroke-linejoin="round"/>
<line x1="1592.3" y1="880.8" x2="1645.7" y2="880.8" stroke="#6A22A8" stroke-width="4.1"/>
<text x="1650.4" y="892.6" font-size="30" font-weight="bold" textLength="98" lengthAdjust="spacingAndGlyphs"><tspan font-style="italic">T</tspan>=360K</text>
<rect x="1582.5" y="926.1" width="166.9" height="54.8" fill="#fff" stroke="#000" stroke-width="4.7" stroke-linejoin="round"/>
<g font-weight="bold"><text x="1610.6" y="961.3" font-size="29.8" font-style="italic" font-weight="normal" stroke="#111" stroke-width="0.6">λ</text><text x="1624.6" y="967.9" font-size="20" stroke="#111" stroke-width="0.3"><tspan font-style="italic">P</tspan>1</text><text transform="translate(1652.7 961.3) scale(1.22 1)" font-size="29.8">=</text><text x="1678.1" y="961.3" font-size="29.8">5.0</text></g>
<text x="1095.3" y="1506" font-size="36" font-weight="bold" textLength="609.7" lengthAdjust="spacingAndGlyphs">Dimensionless Excitation Frequency(<tspan font-style="italic">ω</tspan>)</text>
<text transform="translate(953.8 1125.3) rotate(-90)" font-size="36" font-weight="bold" text-anchor="middle" textLength="204.5" lengthAdjust="spacingAndGlyphs">Amplitude(<tspan font-style="italic">θ</tspan>)</text>
<text x="1411.8" y="1591.8" font-size="51.6" font-weight="normal" text-anchor="middle">(d)</text>
</g>
</g>
</svg></body></html>
